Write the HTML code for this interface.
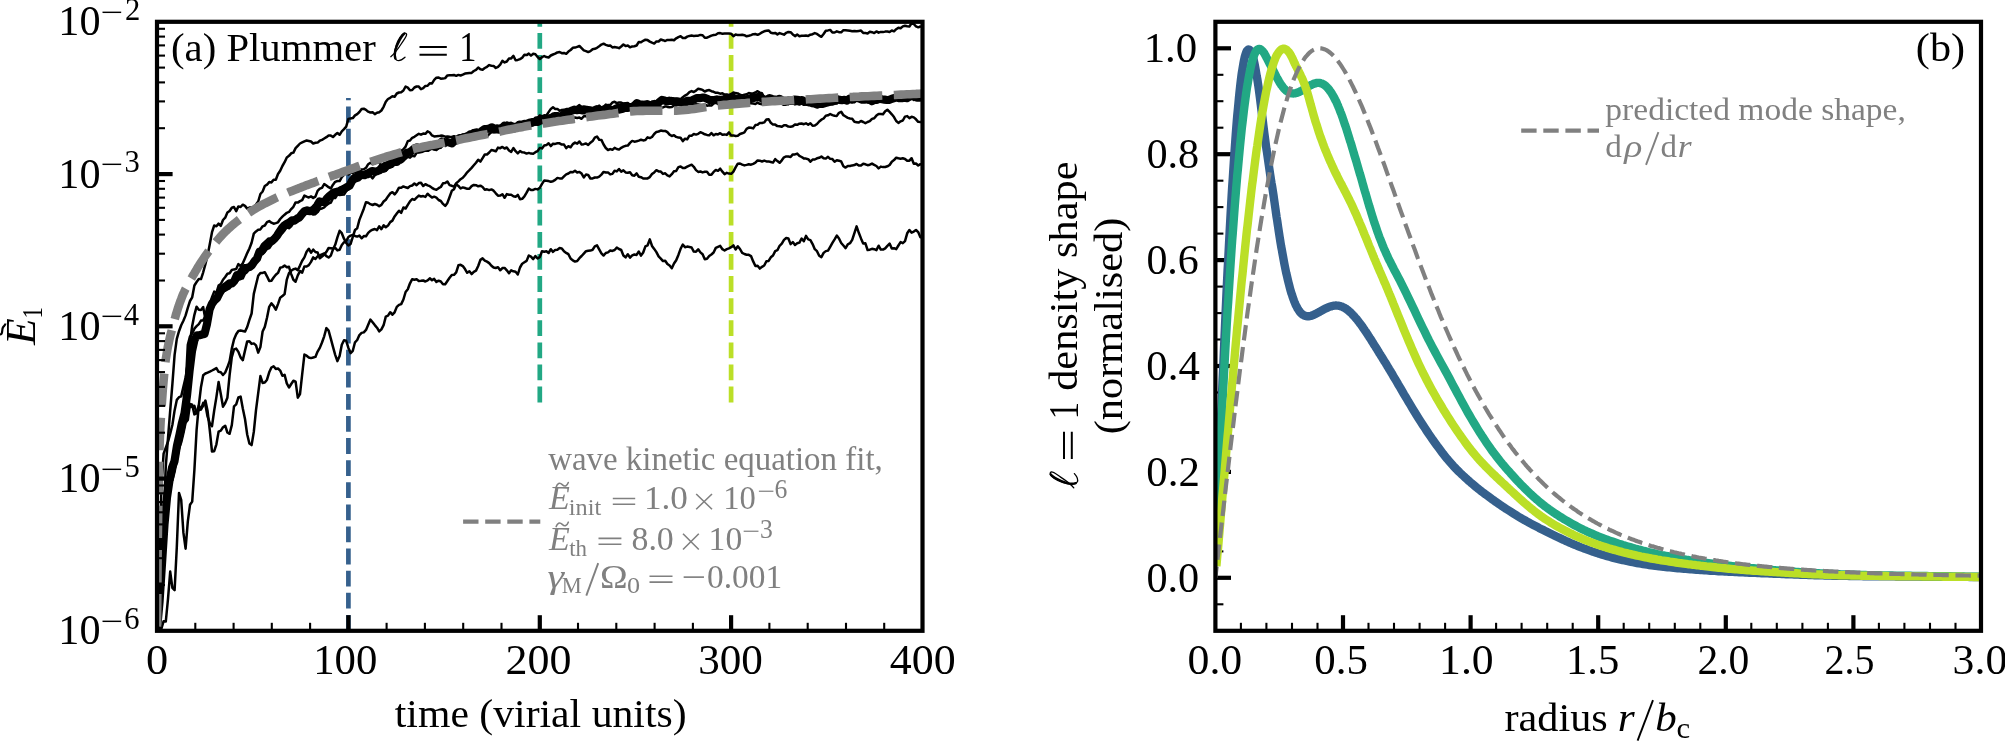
<!DOCTYPE html>
<html><head><meta charset="utf-8"><title>figure</title>
<style>html,body{margin:0;padding:0;background:#fff;}svg{display:block;will-change:transform;}text{font-family:"Liberation Serif",serif;}</style></head>
<body>
<svg width="2005" height="741" viewBox="0 0 2005 741">
<rect x="0" y="0" width="2005" height="741" fill="#fff"/>
<defs>
<clipPath id="cl"><rect x="157" y="21.8" width="765.5" height="609"/></clipPath>
<clipPath id="cr"><rect x="1215.4" y="21.8" width="765.6" height="609"/></clipPath>
</defs>
<g clip-path="url(#cl)" fill="none" stroke-linejoin="round">
<path d="M348.4 700 L348.4 97.9" stroke="#35608d" stroke-width="4.7" stroke-dasharray="15.8 6.3" stroke-dashoffset="19.1"/>
<path d="M539.8 402.4 L539.8 0" stroke="#22a884" stroke-width="4.7" stroke-dasharray="15.8 6.3"/>
<path d="M731.1 402.4 L731.1 0" stroke="#bbdf27" stroke-width="4.7" stroke-dasharray="15.8 6.3"/>
<path d="M157 628.7 L159.2 598.1 L161.4 550.6 L163.6 519.9 L165.8 496.7 L168 492.7 L170.2 483.2 L172.4 480.1 L174.6 471.7 L176.8 459.7 L179 448.8 L181.2 442.4 L183.4 433.3 L185.6 422.7 L187.8 420 L190 404 L192.2 404.7 L194.4 414.4 L196.6 413.4 L198.8 405.5 L201 408.6 L203.2 405.9 L205.4 400.6 L207.6 411.1 L209.8 430.4 L212 451.5 L214.2 451.2 L216.4 444.3 L218.6 431.6 L220.8 430.6 L223 427.2 L225.2 425.7 L227.4 432.5 L229.6 433.8 L231.8 425.1 L234 406.3 L236.2 404.3 L238.4 397.4 L240.6 396.6 L242.8 408.5 L245 419 L247.2 434.5 L249.4 443.5 L251.6 445.1 L253.8 431.9 L256 410.1 L258.2 393.2 L260.4 376.1 L262.6 382.9 L264.8 382.6 L267 379.7 L269.2 372.3 L271.4 367.5 L273.6 366.3 L275.8 368.9 L278 368.5 L280.2 370.6 L282.4 375.8 L284.6 374.8 L286.8 383.4 L289 387.5 L291.2 384 L293.4 380.7 L295.6 381.7 L297.8 397.7 L300 394 L302.2 374.2 L304.4 354.6 L306.6 355.7 L308.8 357.5 L311 358.1 L313.2 357.5 L315.4 356.9 L317.6 351.6 L319.8 347.9 L322 342.5 L324.2 336.3 L326.4 328.1 L328.6 330.6 L330.8 338.7 L333 346.9 L335.2 354.8 L337.4 361.1 L339.6 356 L341.8 344.8 L344 340.3 L346.2 340.8 L348.4 347.9 L350.6 353.1 L352.8 350.8 L355 342.3 L357.2 340 L359.4 335.1 L361.6 332.9 L363.8 332.4 L366 329.9 L368.2 324.8 L370.4 319.6 L372.6 322.2 L374.8 325.1 L377 327.7 L379.2 331.4 L381.4 329.3 L383.6 325.2 L385.8 316.6 L388 315.7 L390.2 312.2 L392.4 314.7 L394.6 312.3 L396.8 306.9 L399 304.9 L401.2 304.1 L403.4 299.5 L405.6 292 L407.8 289.3 L410 283.3 L412.2 279.2 L414.4 279.8 L416.6 279.2 L418.8 281 L421 280.8 L423.2 280.5 L425.4 281.5 L427.6 280.4 L429.8 278.3 L432 280.2 L434.2 278.9 L436.4 281.9 L438.6 280.7 L440.8 281.5 L443 284.2 L445.2 284.2 L447.4 281 L449.6 277.7 L451.8 274.9 L454 274.8 L456.2 272.4 L458.4 265.3 L460.6 264.8 L462.8 266.1 L465 269.1 L467.2 272.8 L469.4 271.3 L471.6 274.1 L473.8 271.8 L476 270.6 L478.2 266 L480.4 259.9 L482.6 258.4 L484.8 260.6 L487 261.6 L489.2 263.1 L491.4 265.7 L493.6 267.5 L495.8 268 L498 267.2 L500.2 270.3 L502.4 268.1 L504.6 267.9 L506.8 270.3 L509 273.2 L511.2 270.3 L513.4 271.3 L515.6 271.8 L517.8 274.5 L520 267.5 L522.2 263.7 L524.4 262.3 L526.6 260.9 L528.8 255.5 L531 256.6 L533.2 259.1 L535.4 256.1 L537.6 258.5 L539.8 257.1 L542 251.2 L544.2 251.7 L546.4 251.3 L548.6 253 L550.8 249.2 L553 251.9 L555.2 249.9 L557.4 249.7 L559.6 248.1 L561.8 248.4 L564 251.3 L566.2 252.9 L568.4 254.2 L570.6 258.5 L572.8 260.4 L575 261.6 L577.2 261 L579.4 258.2 L581.6 256 L583.8 253.6 L586 251.2 L588.2 250.8 L590.4 250.6 L592.6 249.8 L594.8 246.4 L597 245.4 L599.2 249.4 L601.4 253.3 L603.6 255.5 L605.8 253 L608 252.4 L610.2 250.5 L612.4 250.9 L614.6 250 L616.8 247.6 L619 249 L621.2 250 L623.4 255.5 L625.6 257.4 L627.8 254.2 L630 257.6 L632.2 255.3 L634.4 254.5 L636.6 254.9 L638.8 251.5 L641 255.6 L643.2 252.5 L645.4 246.3 L647.6 245.3 L649.8 239.4 L652 245.9 L654.2 248.9 L656.4 252.1 L658.6 256.4 L660.8 258.6 L663 261.1 L665.2 260.7 L667.4 264 L669.6 265.5 L671.8 268.2 L674 263.5 L676.2 260.2 L678.4 254.9 L680.6 248.8 L682.8 244.5 L685 247.2 L687.2 246.6 L689.4 247 L691.6 247.5 L693.8 251.6 L696 251.7 L698.2 249.3 L700.4 252.4 L702.6 254.3 L704.8 259.2 L707 258.8 L709.2 256 L711.4 254.5 L713.6 252.5 L715.8 247.9 L718 246.9 L720.2 245.9 L722.4 249.2 L724.6 250.5 L726.8 249.2 L729 248.4 L731.2 247.2 L733.4 245.4 L735.6 249.5 L737.8 246.3 L740 249 L742.2 252.9 L744.4 254 L746.6 254.7 L748.8 254.8 L751 256.1 L753.2 261.4 L755.4 266 L757.6 265.8 L759.8 268.6 L762 266.8 L764.2 265.5 L766.4 261.2 L768.6 260.9 L770.8 257.3 L773 255.5 L775.2 251.1 L777.4 250.2 L779.6 245.8 L781.8 243.7 L784 239.9 L786.2 238 L788.4 238.5 L790.6 244.1 L792.8 242.1 L795 244.9 L797.2 243.3 L799.4 242.6 L801.6 238.5 L803.8 241.2 L806 235.9 L808.2 239.4 L810.4 240.1 L812.6 244.1 L814.8 249.2 L817 251.2 L819.2 255.7 L821.4 257.1 L823.6 252.9 L825.8 251.1 L828 250.6 L830.2 246.8 L832.4 242.8 L834.6 239.3 L836.8 235.6 L839 238.5 L841.2 243 L843.4 245.5 L845.6 248.1 L847.8 244.3 L850 243.2 L852.2 239.9 L854.4 233.1 L856.6 226.4 L858.8 232.8 L861 238.4 L863.2 243.6 L865.4 243.3 L867.6 250 L869.8 249.7 L872 248.8 L874.2 249.2 L876.4 250.1 L878.6 245.7 L880.8 249.6 L883 249.6 L885.2 248.3 L887.4 245.8 L889.6 243.6 L891.8 248.4 L894 248.2 L896.2 249.2 L898.4 245.5 L900.6 242.1 L902.8 243.2 L905 241.2 L907.2 233.3 L909.4 230 L911.6 232.6 L913.8 231.6 L916 230 L918.2 232.1 L920.4 237.2 L921 237" stroke="#000" stroke-width="2.5"/>
<path d="M157 632.5 L159.2 596.2 L161.4 553.5 L163.6 517.3 L165.8 499.8 L168 485.7 L170.2 480.4 L172.4 467.3 L174.6 468.3 L176.8 448.2 L179 443.5 L181.2 439.6 L183.4 430.7 L185.6 420.2 L187.8 411.9 L190 405.4 L192.2 407 L194.4 405.9 L196.6 412.6 L198.8 410.1 L201 409.5 L203.2 402.9 L205.4 405.1 L207.6 416.7 L209.8 423.2 L212 426.2 L214.2 410.5 L216.4 397.1 L218.6 381.9 L220.8 393.9 L223 406.7 L225.2 403 L227.4 397.7 L229.6 375.1 L231.8 357.2 L234 349.4 L236.2 348.6 L238.4 351.9 L240.6 357.4 L242.8 360.1 L245 350.6 L247.2 341.4 L249.4 341.2 L251.6 343.9 L253.8 343.4 L256 345.4 L258.2 352.6 L260.4 347.1 L262.6 331.5 L264.8 326.9 L267 317.8 L269.2 306.8 L271.4 303.3 L273.6 305.8 L275.8 309.7 L278 304.1 L280.2 297.7 L282.4 296.1 L284.6 294 L286.8 279.6 L289 273.1 L291.2 270.7 L293.4 269.2 L295.6 268.6 L297.8 270.1 L300 265.6 L302.2 260.8 L304.4 257.4 L306.6 251.7 L308.8 248.7 L311 252.7 L313.2 249.6 L315.4 252 L317.6 252.5 L319.8 258.3 L322 256.5 L324.2 254.8 L326.4 251.8 L328.6 248 L330.8 248.2 L333 248.5 L335.2 247.9 L337.4 250.4 L339.6 249.7 L341.8 245 L344 242.3 L346.2 241.1 L348.4 237 L350.6 235.6 L352.8 234.9 L355 236 L357.2 236.6 L359.4 235.6 L361.6 238.3 L363.8 236.1 L366 236.2 L368.2 232.9 L370.4 230.8 L372.6 229.7 L374.8 229 L377 230.2 L379.2 226.4 L381.4 229.1 L383.6 225.3 L385.8 227.2 L388 225.6 L390.2 222.1 L392.4 220.6 L394.6 216.4 L396.8 213.5 L399 210.7 L401.2 212.9 L403.4 207.5 L405.6 208.5 L407.8 204.8 L410 201.3 L412.2 199 L414.4 199.8 L416.6 197.6 L418.8 195.6 L421 196.5 L423.2 196.1 L425.4 196.9 L427.6 193.7 L429.8 195.8 L432 197.5 L434.2 196.7 L436.4 197.6 L438.6 200 L440.8 201 L443 203.9 L445.2 205.9 L447.4 202.9 L449.6 197 L451.8 190.8 L454 189.2 L456.2 184.3 L458.4 185.9 L460.6 188.5 L462.8 187.4 L465 188 L467.2 188.8 L469.4 188.8 L471.6 186.1 L473.8 184.9 L476 185.2 L478.2 186.3 L480.4 185.7 L482.6 187 L484.8 189.8 L487 189.3 L489.2 190.1 L491.4 189.4 L493.6 190.7 L495.8 193.3 L498 195.7 L500.2 195.6 L502.4 194.2 L504.6 197.8 L506.8 194.1 L509 194.7 L511.2 194.8 L513.4 196.2 L515.6 196.7 L517.8 194.9 L520 199.2 L522.2 198.8 L524.4 196.4 L526.6 192.7 L528.8 188.6 L531 190 L533.2 189.9 L535.4 188.9 L537.6 189.4 L539.8 187.8 L542 183.9 L544.2 180.6 L546.4 180.7 L548.6 181.1 L550.8 181.7 L553 181.2 L555.2 179.9 L557.4 177.9 L559.6 178.4 L561.8 178.6 L564 176.4 L566.2 174.3 L568.4 173.5 L570.6 171.9 L572.8 172.3 L575 170.7 L577.2 172.5 L579.4 171.9 L581.6 173.6 L583.8 177.4 L586 174.6 L588.2 175 L590.4 178.5 L592.6 178.4 L594.8 177.5 L597 177.6 L599.2 176.6 L601.4 174.6 L603.6 171.9 L605.8 172.5 L608 172.4 L610.2 174.4 L612.4 173.9 L614.6 170.7 L616.8 171.4 L619 169 L621.2 171.6 L623.4 170.3 L625.6 172.4 L627.8 172.8 L630 172.3 L632.2 175.3 L634.4 175.7 L636.6 173.4 L638.8 176.7 L641 177.2 L643.2 178.5 L645.4 178.4 L647.6 178.4 L649.8 177.1 L652 174.1 L654.2 172.4 L656.4 170.2 L658.6 171.4 L660.8 171.6 L663 173.9 L665.2 173.3 L667.4 175.4 L669.6 176.4 L671.8 174.2 L674 171.3 L676.2 170.9 L678.4 167.1 L680.6 166.5 L682.8 168.1 L685 167.9 L687.2 166.6 L689.4 165.6 L691.6 164.7 L693.8 166.8 L696 170.1 L698.2 171.9 L700.4 171.5 L702.6 172.4 L704.8 171.8 L707 171.8 L709.2 174.7 L711.4 174.8 L713.6 171.9 L715.8 170 L718 170.8 L720.2 168.6 L722.4 171.7 L724.6 174.2 L726.8 172.8 L729 173.6 L731.2 173.8 L733.4 171.6 L735.6 167.4 L737.8 163.7 L740 163.5 L742.2 164.6 L744.4 165.4 L746.6 164.9 L748.8 164.3 L751 164.7 L753.2 163.8 L755.4 162.6 L757.6 160.4 L759.8 160.7 L762 161.5 L764.2 160.6 L766.4 161.4 L768.6 161.4 L770.8 162 L773 162.6 L775.2 159.1 L777.4 161.1 L779.6 162.8 L781.8 160.3 L784 157.3 L786.2 156.4 L788.4 156.5 L790.6 157 L792.8 154.4 L795 154.4 L797.2 153.6 L799.4 155.9 L801.6 157 L803.8 158.4 L806 158.6 L808.2 159.2 L810.4 161.7 L812.6 159.6 L814.8 159.5 L817 158.3 L819.2 157.8 L821.4 156.5 L823.6 158.3 L825.8 158.6 L828 156.8 L830.2 158.8 L832.4 159.1 L834.6 161.7 L836.8 160.2 L839 160.7 L841.2 161.5 L843.4 166.2 L845.6 167.6 L847.8 166 L850 166 L852.2 165.4 L854.4 165.1 L856.6 163.9 L858.8 165.5 L861 165.5 L863.2 163.8 L865.4 164.3 L867.6 165.2 L869.8 164.7 L872 163.6 L874.2 164.9 L876.4 166 L878.6 168.4 L880.8 166.6 L883 167.1 L885.2 167 L887.4 166.3 L889.6 165 L891.8 161.7 L894 160.1 L896.2 157.7 L898.4 158.3 L900.6 158.7 L902.8 158.3 L905 159 L907.2 160.8 L909.4 160.7 L911.6 158.2 L913.8 163.7 L916 163.5 L918.2 165.5 L920.4 164.2 L921 165.4" stroke="#000" stroke-width="2.5"/>
<path d="M157 636 L159.2 636.4 L161.4 628.7 L163.6 621.2 L165.8 621.5 L168 598.9 L170.2 571.6 L172.4 587.9 L174.6 590.2 L176.8 547.1 L179 493 L181.2 499.8 L183.4 532.7 L185.6 548.7 L187.8 521.7 L190 504.8 L192.2 501.6 L194.4 469.9 L196.6 429.9 L198.8 405.3 L201 386.9 L203.2 375.3 L205.4 373.5 L207.6 372.6 L209.8 371.6 L212 370.5 L214.2 369.3 L216.4 368.1 L218.6 371.8 L220.8 372.2 L223 375 L225.2 372.5 L227.4 367.3 L229.6 361.2 L231.8 348.6 L234 339.5 L236.2 334.3 L238.4 331 L240.6 330.6 L242.8 331 L245 331.6 L247.2 327 L249.4 319.8 L251.6 313.5 L253.8 293.9 L256 284.8 L258.2 275.8 L260.4 272.9 L262.6 272.9 L264.8 272.2 L267 276.3 L269.2 280.9 L271.4 280.7 L273.6 277.5 L275.8 274.8 L278 272.9 L280.2 267.7 L282.4 267.1 L284.6 265.6 L286.8 267.2 L289 266.8 L291.2 274.1 L293.4 279.8 L295.6 281.7 L297.8 275.4 L300 271.1 L302.2 272.6 L304.4 266.4 L306.6 266.5 L308.8 265.1 L311 261.9 L313.2 257.4 L315.4 259 L317.6 256.3 L319.8 255.4 L322 254.3 L324.2 253.3 L326.4 256.2 L328.6 257.5 L330.8 255.6 L333 249.4 L335.2 244.8 L337.4 237.4 L339.6 230.8 L341.8 233.2 L344 238.7 L346.2 242.9 L348.4 245.5 L350.6 244 L352.8 236.9 L355 230 L357.2 228.3 L359.4 219.9 L361.6 214.4 L363.8 208.7 L366 202.2 L368.2 202.8 L370.4 204.2 L372.6 205 L374.8 204 L377 204.7 L379.2 206.3 L381.4 204.9 L383.6 201.5 L385.8 199.7 L388 196.4 L390.2 193.4 L392.4 192.2 L394.6 194.4 L396.8 191.7 L399 187.7 L401.2 187.8 L403.4 186.4 L405.6 187.3 L407.8 188 L410 186.1 L412.2 185.5 L414.4 183.5 L416.6 185.2 L418.8 183.1 L421 182.8 L423.2 186 L425.4 184.2 L427.6 185.4 L429.8 186.2 L432 187.8 L434.2 189.1 L436.4 189.7 L438.6 188.2 L440.8 187 L443 183.3 L445.2 183.1 L447.4 181.5 L449.6 185.1 L451.8 185.8 L454 186.7 L456.2 183.2 L458.4 181.4 L460.6 179.2 L462.8 177.8 L465 175.2 L467.2 172.3 L469.4 170.2 L471.6 167.9 L473.8 165.3 L476 162.7 L478.2 159.7 L480.4 161.7 L482.6 158.1 L484.8 154.5 L487 154.5 L489.2 152.5 L491.4 150 L493.6 150.5 L495.8 151.3 L498 147.6 L500.2 148.2 L502.4 146.9 L504.6 148.5 L506.8 147.5 L509 150.5 L511.2 151.9 L513.4 148 L515.6 151.2 L517.8 153.3 L520 151 L522.2 152.3 L524.4 152.6 L526.6 153.6 L528.8 152.9 L531 153.6 L533.2 153.7 L535.4 152.2 L537.6 151.1 L539.8 147.9 L542 148.4 L544.2 145.5 L546.4 145.1 L548.6 143.2 L550.8 146.1 L553 143.7 L555.2 143.9 L557.4 143.3 L559.6 143.3 L561.8 144.6 L564 144.6 L566.2 148.1 L568.4 146.2 L570.6 147.3 L572.8 144.1 L575 142.6 L577.2 143.7 L579.4 141.5 L581.6 144.5 L583.8 144.2 L586 143.4 L588.2 145 L590.4 142.7 L592.6 141.1 L594.8 137.6 L597 136.5 L599.2 139.7 L601.4 139.9 L603.6 144.5 L605.8 148 L608 150 L610.2 149.1 L612.4 149.8 L614.6 147.8 L616.8 149 L619 149.6 L621.2 147.8 L623.4 146.7 L625.6 145.8 L627.8 145.6 L630 142.9 L632.2 140.9 L634.4 141.7 L636.6 141.3 L638.8 140.6 L641 139.7 L643.2 140.4 L645.4 140.1 L647.6 137.3 L649.8 138.1 L652 137 L654.2 134 L656.4 131.9 L658.6 131.5 L660.8 130.6 L663 131 L665.2 130.9 L667.4 132.2 L669.6 134.7 L671.8 136 L674 135.2 L676.2 136.9 L678.4 137.6 L680.6 137.8 L682.8 141.1 L685 138.7 L687.2 139.3 L689.4 135.7 L691.6 135.7 L693.8 134 L696 134.6 L698.2 133.8 L700.4 132.2 L702.6 133.1 L704.8 134.3 L707 134.9 L709.2 135.3 L711.4 133 L713.6 135.3 L715.8 134 L718 134.4 L720.2 133.2 L722.4 134.8 L724.6 134.4 L726.8 134.9 L729 132.4 L731.2 135.4 L733.4 135.4 L735.6 136 L737.8 135.7 L740 134 L742.2 133.3 L744.4 132.3 L746.6 128.8 L748.8 127.6 L751 127.8 L753.2 128.4 L755.4 125.1 L757.6 124.7 L759.8 122.9 L762 123 L764.2 122.4 L766.4 119.5 L768.6 119.2 L770.8 122.8 L773 124.6 L775.2 124.6 L777.4 126.1 L779.6 126.3 L781.8 126.8 L784 125.2 L786.2 125.3 L788.4 126.6 L790.6 126.8 L792.8 126.3 L795 124.4 L797.2 124.8 L799.4 123.7 L801.6 123.5 L803.8 124.2 L806 123.3 L808.2 124.7 L810.4 123.2 L812.6 125.8 L814.8 125.5 L817 124 L819.2 121.5 L821.4 119.7 L823.6 118.5 L825.8 115.7 L828 115.3 L830.2 114 L832.4 115.1 L834.6 115.8 L836.8 115.9 L839 112.8 L841.2 111.8 L843.4 115.2 L845.6 116.5 L847.8 117.9 L850 118.5 L852.2 118.8 L854.4 121.8 L856.6 122.2 L858.8 122.6 L861 121 L863.2 122 L865.4 123.2 L867.6 122 L869.8 121.2 L872 118.9 L874.2 118.2 L876.4 115.6 L878.6 114 L880.8 114.1 L883 114.3 L885.2 111.2 L887.4 109.7 L889.6 111.9 L891.8 114.3 L894 117.1 L896.2 121 L898.4 122.9 L900.6 121.3 L902.8 120.5 L905 116.6 L907.2 116.1 L909.4 118.1 L911.6 116.8 L913.8 117.4 L916 119.3 L918.2 121.8 L920.4 122.1 L921 122" stroke="#000" stroke-width="2.5"/>
<path d="M157 629.1 L159.2 594.9 L161.4 552.5 L163.6 517.4 L165.8 498 L168 483.2 L170.2 469.1 L172.4 464.6 L174.6 454.3 L176.8 442.3 L179 430.9 L181.2 419.7 L183.4 408.4 L185.6 387.6 L187.8 344.7 L190 336.4 L192.2 333.6 L194.4 328.7 L196.6 326.2 L198.8 324.2 L201 320.6 L203.2 320.4 L205.4 316.1 L207.6 310.3 L209.8 308.4 L212 303.2 L214.2 298.9 L216.4 296.1 L218.6 297.4 L220.8 293.1 L223 291.7 L225.2 290.6 L227.4 289.3 L229.6 288.3 L231.8 285.6 L234 283.7 L236.2 282.5 L238.4 279.8 L240.6 279 L242.8 278.4 L245 273.7 L247.2 272 L249.4 267.9 L251.6 265 L253.8 262.9 L256 261.2 L258.2 258.4 L260.4 253 L262.6 254.2 L264.8 251.8 L267 249 L269.2 248.2 L271.4 245.1 L273.6 241.4 L275.8 240.3 L278 238.3 L280.2 234.4 L282.4 233 L284.6 230.4 L286.8 227 L289 228.2 L291.2 226.4 L293.4 223.1 L295.6 222.6 L297.8 220.6 L300 219.4 L302.2 215.1 L304.4 214.5 L306.6 213.6 L308.8 213.8 L311 213.7 L313.2 214.5 L315.4 214.2 L317.6 212.2 L319.8 208.9 L322 208.5 L324.2 207.3 L326.4 205.2 L328.6 203.5 L330.8 202.7 L333 198.1 L335.2 198.1 L337.4 194.5 L339.6 194.9 L341.8 194.8 L344 194.6 L346.2 191 L348.4 189.1 L350.6 186.6 L352.8 182 L355 181.7 L357.2 180.9 L359.4 180 L361.6 178 L363.8 177.4 L366 176.7 L368.2 177.1 L370.4 175.9 L372.6 178.3 L374.8 175.3 L377 173.5 L379.2 172.4 L381.4 170.7 L383.6 171.7 L385.8 170.9 L388 167.7 L390.2 166.8 L392.4 166.7 L394.6 163.5 L396.8 162.7 L399 161.3 L401.2 162.5 L403.4 160.9 L405.6 158.7 L407.8 156.9 L410 157.7 L412.2 155.5 L414.4 156.3 L416.6 152.8 L418.8 152.2 L421 151.6 L423.2 150.6 L425.4 150.3 L427.6 150.8 L429.8 149.6 L432 147.9 L434.2 149.4 L436.4 150 L438.6 148.1 L440.8 147.7 L443 144.6 L445.2 145.9 L447.4 144.2 L449.6 143.7 L451.8 145.7 L454 143.3 L456.2 142.9 L458.4 141.3 L460.6 139.4 L462.8 138.7 L465 139.3 L467.2 137.9 L469.4 137.4 L471.6 138.1 L473.8 137.5 L476 135.9 L478.2 137.4 L480.4 136.8 L482.6 137.4 L484.8 135.3 L487 136.4 L489.2 134.1 L491.4 132.2 L493.6 132.2 L495.8 132 L498 132.3 L500.2 131.5 L502.4 131.9 L504.6 132.5 L506.8 130.9 L509 129.2 L511.2 128.8 L513.4 129.5 L515.6 129.6 L517.8 128.4 L520 127 L522.2 126.8 L524.4 127.4 L526.6 126 L528.8 126.7 L531 126 L533.2 125.4 L535.4 124 L537.6 124.8 L539.8 124 L542 122 L544.2 122.7 L546.4 121.8 L548.6 122.4 L550.8 121.8 L553 120.6 L555.2 120.4 L557.4 119.5 L559.6 118.6 L561.8 118.6 L564 119.1 L566.2 118.5 L568.4 118 L570.6 117.3 L572.8 117.7 L575 117.6 L577.2 118 L579.4 117.6 L581.6 118.8 L583.8 116.2 L586 115.9 L588.2 116.2 L590.4 116.5 L592.6 114.6 L594.8 113.6 L597 114 L599.2 115 L601.4 115.5 L603.6 113.5 L605.8 113.6 L608 114.5 L610.2 113.9 L612.4 112.6 L614.6 112 L616.8 111 L619 112.5 L621.2 112 L623.4 111.5 L625.6 110.7 L627.8 110.8 L630 110.1 L632.2 109.5 L634.4 109.9 L636.6 109.8 L638.8 110.2 L641 110.1 L643.2 110.7 L645.4 109.8 L647.6 109.5 L649.8 109.1 L652 108 L654.2 108.8 L656.4 107.7 L658.6 106.1 L660.8 107.4 L663 107.5 L665.2 106.4 L667.4 106.9 L669.6 107.2 L671.8 107.1 L674 105.5 L676.2 105.6 L678.4 104.7 L680.6 104.4 L682.8 104.3 L685 103.9 L687.2 104.8 L689.4 104.1 L691.6 104.9 L693.8 104.9 L696 104.2 L698.2 104.4 L700.4 104.9 L702.6 105.5 L704.8 104.6 L707 105.7 L709.2 105.3 L711.4 105.6 L713.6 103.5 L715.8 102.6 L718 103.9 L720.2 103.4 L722.4 103.6 L724.6 104.3 L726.8 102.4 L729 102.9 L731.2 104.3 L733.4 104.1 L735.6 103.4 L737.8 103.3 L740 102.8 L742.2 103 L744.4 103.7 L746.6 102.9 L748.8 103.2 L751 103.2 L753.2 103.6 L755.4 104 L757.6 102.6 L759.8 103.8 L762 104.2 L764.2 102.9 L766.4 102.9 L768.6 102 L770.8 102.5 L773 103.4 L775.2 102.7 L777.4 102.7 L779.6 102.6 L781.8 102.7 L784 102.7 L786.2 102.5 L788.4 103.6 L790.6 103.7 L792.8 103.2 L795 104.4 L797.2 103.8 L799.4 104.6 L801.6 103.4 L803.8 104.8 L806 104.1 L808.2 103.3 L810.4 104 L812.6 102.9 L814.8 102.6 L817 103.4 L819.2 103.3 L821.4 103.7 L823.6 103.7 L825.8 103.6 L828 103.4 L830.2 103.6 L832.4 103.1 L834.6 103.5 L836.8 103.6 L839 101.1 L841.2 99.9 L843.4 101.7 L845.6 101 L847.8 101.1 L850 100.7 L852.2 100.8 L854.4 102.2 L856.6 100.6 L858.8 100.3 L861 100.1 L863.2 99.1 L865.4 98.7 L867.6 98.9 L869.8 99.2 L872 99.7 L874.2 98 L876.4 97.4 L878.6 99.6 L880.8 99.4 L883 100 L885.2 99.3 L887.4 98.7 L889.6 100.6 L891.8 98.9 L894 98.2 L896.2 99.1 L898.4 99 L900.6 97.5 L902.8 98.1 L905 98.9 L907.2 97.5 L909.4 97.4 L911.6 98.5 L913.8 99.9 L916 97.2 L918.2 97.1 L920.4 97.5 L921 98" stroke="#000" stroke-width="2.5"/>
<path d="M157 631.8 L159.2 575.6 L161.4 486.9 L163.6 453.6 L165.8 447.8 L168 441.7 L170.2 433.6 L172.4 424.7 L174.6 410.4 L176.8 399.9 L179 397.2 L181.2 396.4 L183.4 386.9 L185.6 377.5 L187.8 363.7 L190 341.8 L192.2 326 L194.4 314.8 L196.6 306.7 L198.8 309.8 L201 310 L203.2 307.1 L205.4 319.4 L207.6 307.8 L209.8 304.9 L212 297.2 L214.2 291.6 L216.4 292.9 L218.6 285.6 L220.8 284 L223 279.7 L225.2 277 L227.4 273.7 L229.6 273.3 L231.8 270 L234 269.4 L236.2 269.1 L238.4 264.1 L240.6 266.1 L242.8 263.2 L245 258.3 L247.2 253.1 L249.4 248.5 L251.6 242.8 L253.8 233.6 L256 231.4 L258.2 229.8 L260.4 229.4 L262.6 226.3 L264.8 225.5 L267 222.1 L269.2 221.1 L271.4 222.7 L273.6 223.7 L275.8 223.1 L278 222.3 L280.2 219 L282.4 216.7 L284.6 214.7 L286.8 212.8 L289 211.9 L291.2 209.1 L293.4 206.8 L295.6 202.4 L297.8 202.6 L300 201.1 L302.2 200.1 L304.4 195.6 L306.6 196.7 L308.8 197.5 L311 196.4 L313.2 197.9 L315.4 196.6 L317.6 190.9 L319.8 188.7 L322 187.9 L324.2 184 L326.4 185.5 L328.6 187.2 L330.8 188.5 L333 184.7 L335.2 181.8 L337.4 181 L339.6 181.1 L341.8 177.1 L344 174.8 L346.2 173 L348.4 174.5 L350.6 172.7 L352.8 172.7 L355 172.4 L357.2 172.4 L359.4 170.9 L361.6 169.4 L363.8 169.2 L366 167.8 L368.2 164.2 L370.4 162.8 L372.6 164 L374.8 163.5 L377 162.4 L379.2 162.3 L381.4 165.9 L383.6 163.5 L385.8 162.6 L388 161.9 L390.2 159.6 L392.4 159 L394.6 157.3 L396.8 155 L399 150.7 L401.2 150.7 L403.4 149.3 L405.6 146.6 L407.8 141.1 L410 140.5 L412.2 137.8 L414.4 136.8 L416.6 135.3 L418.8 133.8 L421 134.7 L423.2 133.6 L425.4 133.8 L427.6 131.4 L429.8 132.5 L432 135.4 L434.2 136.4 L436.4 136.2 L438.6 136.1 L440.8 135.6 L443 135.8 L445.2 136.7 L447.4 136.4 L449.6 136.8 L451.8 137 L454 136.2 L456.2 137 L458.4 136.7 L460.6 135.4 L462.8 134.5 L465 134.2 L467.2 133 L469.4 131.6 L471.6 132.3 L473.8 131.8 L476 132.6 L478.2 131.5 L480.4 131.5 L482.6 131.5 L484.8 130.5 L487 130.5 L489.2 129.4 L491.4 128.8 L493.6 129.2 L495.8 128.6 L498 127.4 L500.2 125.5 L502.4 125.7 L504.6 126.9 L506.8 122.5 L509 123.2 L511.2 122.8 L513.4 123.8 L515.6 124.4 L517.8 122.3 L520 124.2 L522.2 122.7 L524.4 122.2 L526.6 122.9 L528.8 122.5 L531 121.7 L533.2 119.8 L535.4 117.7 L537.6 117.3 L539.8 115.3 L542 116.4 L544.2 115.3 L546.4 115.4 L548.6 112.1 L550.8 108.9 L553 107.3 L555.2 108.9 L557.4 108.9 L559.6 110.8 L561.8 110 L564 109.8 L566.2 111.6 L568.4 110.9 L570.6 111 L572.8 110.7 L575 109.6 L577.2 106.8 L579.4 105.1 L581.6 107 L583.8 106.4 L586 107 L588.2 107.4 L590.4 107.6 L592.6 107.9 L594.8 107.9 L597 108.2 L599.2 105.6 L601.4 107.9 L603.6 106.8 L605.8 104.6 L608 105.1 L610.2 105.1 L612.4 102.5 L614.6 101.8 L616.8 103.1 L619 102.5 L621.2 102.6 L623.4 103.6 L625.6 103.2 L627.8 103 L630 105 L632.2 104.5 L634.4 104.5 L636.6 105.4 L638.8 105.5 L641 103.9 L643.2 105.7 L645.4 104.3 L647.6 105.1 L649.8 103.9 L652 101.5 L654.2 102.7 L656.4 101.6 L658.6 100.2 L660.8 100.2 L663 97.9 L665.2 99.2 L667.4 98.7 L669.6 98.8 L671.8 98.1 L674 99.2 L676.2 99 L678.4 99 L680.6 99.1 L682.8 97.2 L685 95.6 L687.2 94.4 L689.4 92.1 L691.6 91.1 L693.8 92 L696 90.7 L698.2 88.7 L700.4 89.2 L702.6 89.9 L704.8 91.5 L707 90.5 L709.2 90.1 L711.4 91.2 L713.6 91.8 L715.8 92.8 L718 92.8 L720.2 93.7 L722.4 93.3 L724.6 94.6 L726.8 94.6 L729 94.9 L731.2 94 L733.4 92.5 L735.6 93.1 L737.8 93.4 L740 94.8 L742.2 95.4 L744.4 94.7 L746.6 94.3 L748.8 93.1 L751 93.4 L753.2 93.4 L755.4 92.5 L757.6 91.2 L759.8 92.6 L762 93.3 L764.2 97.3 L766.4 99.7 L768.6 100.9 L770.8 99.4 L773 100.3 L775.2 98.9 L777.4 99.5 L779.6 98.8 L781.8 99.5 L784 100.3 L786.2 102.4 L788.4 104 L790.6 103.5 L792.8 103.6 L795 103.1 L797.2 102.9 L799.4 102.3 L801.6 103.3 L803.8 104.5 L806 103.6 L808.2 104.2 L810.4 102.8 L812.6 102.2 L814.8 102.2 L817 103.5 L819.2 102.7 L821.4 103.5 L823.6 102.6 L825.8 101.3 L828 99.6 L830.2 100.1 L832.4 99.7 L834.6 101.3 L836.8 101.7 L839 99.6 L841.2 100.9 L843.4 101.2 L845.6 97.7 L847.8 97.6 L850 98.8 L852.2 97.4 L854.4 97.5 L856.6 98.6 L858.8 99.4 L861 100.1 L863.2 100.7 L865.4 99.7 L867.6 102.5 L869.8 102.3 L872 103.9 L874.2 102.5 L876.4 102.4 L878.6 101.7 L880.8 100.6 L883 100.3 L885.2 99.9 L887.4 100.1 L889.6 99.5 L891.8 98.7 L894 98.5 L896.2 99.5 L898.4 98.7 L900.6 98.8 L902.8 98.4 L905 96 L907.2 95.8 L909.4 95.7 L911.6 95.1 L913.8 95.6 L916 94.7 L918.2 96.3 L920.4 96.3 L921 97.4" stroke="#000" stroke-width="2.5"/>
<path d="M157 628.9 L159.2 595.3 L161.4 555.6 L163.6 517.2 L165.8 466.1 L168 438.1 L170.2 410.7 L172.4 383.9 L174.6 354.9 L176.8 338.8 L179 331.2 L181.2 325.2 L183.4 320.8 L185.6 315.4 L187.8 307.9 L190 301 L192.2 297.3 L194.4 285.5 L196.6 282 L198.8 279.1 L201 279.1 L203.2 272.3 L205.4 264.1 L207.6 255.5 L209.8 244.1 L212 232.2 L214.2 225.5 L216.4 226.3 L218.6 223.6 L220.8 225.9 L223 220 L225.2 217.7 L227.4 212.6 L229.6 211 L231.8 207.7 L234 207 L236.2 211.1 L238.4 206.4 L240.6 207 L242.8 204.7 L245 205.9 L247.2 208.6 L249.4 207.6 L251.6 207.6 L253.8 206.9 L256 204.5 L258.2 201.5 L260.4 194 L262.6 191.5 L264.8 186 L267 184.7 L269.2 182.1 L271.4 182.4 L273.6 179.7 L275.8 179.8 L278 174 L280.2 170.8 L282.4 166 L284.6 162.2 L286.8 157.4 L289 155.8 L291.2 153.3 L293.4 152.6 L295.6 148.1 L297.8 145.8 L300 143.5 L302.2 142.4 L304.4 141.3 L306.6 140.5 L308.8 141 L311 141.5 L313.2 143.5 L315.4 142.8 L317.6 142.6 L319.8 140.7 L322 139.8 L324.2 138.5 L326.4 137.2 L328.6 135.5 L330.8 135.6 L333 137 L335.2 134.8 L337.4 133 L339.6 134.8 L341.8 131.3 L344 129.2 L346.2 126.7 L348.4 118.9 L350.6 118.4 L352.8 118.1 L355 115.4 L357.2 114.1 L359.4 112 L361.6 109 L363.8 108.7 L366 109.9 L368.2 111.7 L370.4 112.5 L372.6 112.3 L374.8 114.1 L377 112.7 L379.2 112.2 L381.4 110.5 L383.6 106.8 L385.8 101.8 L388 99 L390.2 97.8 L392.4 96.3 L394.6 96.7 L396.8 93.5 L399 92.5 L401.2 92.2 L403.4 90.5 L405.6 86.5 L407.8 87.6 L410 90.2 L412.2 90 L414.4 87.5 L416.6 86.5 L418.8 86.6 L421 89.2 L423.2 88.2 L425.4 85.9 L427.6 85.8 L429.8 83.2 L432 83.4 L434.2 79.9 L436.4 77.7 L438.6 77.5 L440.8 78.7 L443 78.6 L445.2 78.1 L447.4 75.4 L449.6 75.2 L451.8 75.2 L454 75 L456.2 75.8 L458.4 74.9 L460.6 75.5 L462.8 74.7 L465 73.6 L467.2 73.3 L469.4 73 L471.6 72.9 L473.8 71 L476 69.9 L478.2 67.6 L480.4 69.3 L482.6 69.7 L484.8 68 L487 66.8 L489.2 65.1 L491.4 65.7 L493.6 65.9 L495.8 68 L498 66.9 L500.2 64.6 L502.4 60.8 L504.6 62.4 L506.8 61.5 L509 58.6 L511.2 58.4 L513.4 55.9 L515.6 60.2 L517.8 59.9 L520 59.1 L522.2 57.7 L524.4 54.7 L526.6 55.1 L528.8 53.6 L531 55.6 L533.2 53.8 L535.4 54.3 L537.6 57 L539.8 59 L542 57.2 L544.2 56 L546.4 57.1 L548.6 57.5 L550.8 55.5 L553 54.5 L555.2 53.7 L557.4 52.4 L559.6 52 L561.8 53.2 L564 52.9 L566.2 53.8 L568.4 51.6 L570.6 50 L572.8 47.8 L575 47.6 L577.2 46.8 L579.4 46 L581.6 48.2 L583.8 50.4 L586 51.1 L588.2 52.1 L590.4 51.1 L592.6 49.2 L594.8 48.8 L597 47.8 L599.2 46.3 L601.4 44.6 L603.6 43.7 L605.8 44.8 L608 45.7 L610.2 45.5 L612.4 47.4 L614.6 47.1 L616.8 47.4 L619 48.2 L621.2 46.5 L623.4 44.5 L625.6 46.1 L627.8 45.5 L630 47.3 L632.2 46.4 L634.4 46.2 L636.6 45.5 L638.8 41.9 L641 42.3 L643.2 40.8 L645.4 39.7 L647.6 40.1 L649.8 41.6 L652 42.7 L654.2 43.6 L656.4 41.4 L658.6 41.5 L660.8 39.5 L663 40.2 L665.2 41 L667.4 39.9 L669.6 40 L671.8 39.8 L674 40.2 L676.2 38.3 L678.4 37.1 L680.6 36.2 L682.8 38 L685 38.1 L687.2 36.6 L689.4 35.9 L691.6 35.6 L693.8 35.9 L696 35.8 L698.2 35.7 L700.4 34.9 L702.6 35.2 L704.8 37.8 L707 37.7 L709.2 36.7 L711.4 35.6 L713.6 35 L715.8 34.7 L718 33.3 L720.2 33.1 L722.4 33.7 L724.6 33.4 L726.8 33.5 L729 33.6 L731.2 33.8 L733.4 36.2 L735.6 34.5 L737.8 35.1 L740 34.9 L742.2 34.7 L744.4 35.2 L746.6 36.3 L748.8 35.8 L751 35.1 L753.2 34.2 L755.4 34 L757.6 34.8 L759.8 33.8 L762 32.4 L764.2 31.3 L766.4 30.8 L768.6 30.4 L770.8 32.7 L773 33.2 L775.2 32.9 L777.4 34.4 L779.6 33.1 L781.8 33.9 L784 34.7 L786.2 32.8 L788.4 31.9 L790.6 32.2 L792.8 34.4 L795 36.1 L797.2 34.6 L799.4 36.2 L801.6 35.8 L803.8 35.7 L806 35.6 L808.2 35.9 L810.4 34.7 L812.6 34.2 L814.8 33.1 L817 33.9 L819.2 35.6 L821.4 36.8 L823.6 34 L825.8 30.7 L828 30.4 L830.2 29.9 L832.4 32.5 L834.6 32.5 L836.8 31.3 L839 32.2 L841.2 32.3 L843.4 30.2 L845.6 30.2 L847.8 30.4 L850 30.8 L852.2 31.2 L854.4 30.9 L856.6 31.3 L858.8 30.9 L861 30.6 L863.2 32.9 L865.4 33.1 L867.6 33.4 L869.8 31.7 L872 32.2 L874.2 33.1 L876.4 31.4 L878.6 32.7 L880.8 31.9 L883 32.1 L885.2 31.6 L887.4 31.5 L889.6 32 L891.8 30.5 L894 31.3 L896.2 29.2 L898.4 27.7 L900.6 28.2 L902.8 26.4 L905 25.7 L907.2 26.2 L909.4 26.5 L911.6 23.3 L913.8 24 L916 26.4 L918.2 27.3 L920.4 26.5 L921 25.7" stroke="#000" stroke-width="2.5"/>
<path d="M157 629.6 L159.5 602.4 L162 563.7 L164.5 524.4 L167 497.3 L169.5 480.5 L172 467.8 L174.5 461.2 L177 445.6 L179.5 434.6 L182 422.7 L184.5 413.3 L187 395.7 L189.5 371.4 L192 351 L194.5 339.9 L197 335.3 L199.5 335.2 L202 334.5 L204.5 334 L207 323.9 L209.5 309.7 L212 303.7 L214.5 300.3 L217 298.1 L219.5 293.2 L222 289.2 L224.5 287.2 L227 285.5 L229.5 283.4 L232 283.4 L234.5 280.7 L237 275 L239.5 275.1 L242 270.7 L244.5 268 L247 267.7 L249.5 267.1 L252 265 L254.5 261.3 L257 258.5 L259.5 251.6 L262 250.6 L264.5 246.1 L267 243.8 L269.5 241.4 L272 241.1 L274.5 238.8 L277 235.7 L279.5 231.8 L282 228.1 L284.5 225.3 L287 223.6 L289.5 222.4 L292 220.3 L294.5 220.6 L297 218.7 L299.5 217.3 L302 214 L304.5 211.1 L307 210.4 L309.5 211.2 L312 210.6 L314.5 208.8 L317 205.9 L319.5 201.5 L322 202 L324.5 202 L327 198.4 L329.5 195.9 L332 193.9 L334.5 192.2 L337 191.9 L339.5 191.1 L342 189.7 L344.5 188.6 L347 187.1 L349.5 185.7 L352 181 L354.5 177.8 L357 177.3 L359.5 174 L362 174.9 L364.5 175.1 L367 173.7 L369.5 172.5 L372 171 L374.5 171.7 L377 171.3 L379.5 170.3 L382 167.5 L384.5 168.1 L387 165.6 L389.5 164.9 L392 162.9 L394.5 161.8 L397 162 L399.5 158.3 L402 156.8 L404.5 154.6 L407 152.8 L409.5 152.3 L412 150.4 L414.5 148.3 L417 147.4 L419.5 149.5 L422 148.9 L424.5 147.7 L427 148 L429.5 146.1 L432 146 L434.5 146.6 L437 145.8 L439.5 144.6 L442 141.5 L444.5 142.5 L447 141.9 L449.5 142.6 L452 143.4 L454.5 140.9 L457 140.3 L459.5 138.2 L462 138.3 L464.5 137.1 L467 137.2 L469.5 135.5 L472 134.1 L474.5 132.7 L477 132.4 L479.5 133.8 L482 130.9 L484.5 129.2 L487 129.1 L489.5 128.5 L492 127.3 L494.5 129.2 L497 128.3 L499.5 129.5 L502 128.2 L504.5 125.6 L507 126.4 L509.5 127.7 L512 127.9 L514.5 128.4 L517 126.6 L519.5 124.6 L522 124.8 L524.5 123.8 L527 124 L529.5 122.8 L532 122.1 L534.5 122 L537 121.5 L539.5 120.9 L542 119.7 L544.5 120.5 L547 119.6 L549.5 118.2 L552 117.7 L554.5 116 L557 116 L559.5 116.8 L562 115.7 L564.5 113.7 L567 111.9 L569.5 111.7 L572 110.6 L574.5 109.7 L577 110.1 L579.5 109.7 L582 110.3 L584.5 110.3 L587 109.8 L589.5 110.9 L592 111.4 L594.5 110.5 L597 109.2 L599.5 109.8 L602 110.5 L604.5 109.3 L607 108.4 L609.5 109.6 L612 110.5 L614.5 109.5 L617 108.2 L619.5 108 L622 106.9 L624.5 106.7 L627 107 L629.5 107.2 L632 107.4 L634.5 105.4 L637 103.1 L639.5 104.4 L642 104.5 L644.5 104.8 L647 104.2 L649.5 105.1 L652 105.1 L654.5 103.9 L657 104.4 L659.5 101.9 L662 99.9 L664.5 100.5 L667 101.5 L669.5 100.7 L672 101 L674.5 101.3 L677 101.3 L679.5 102.2 L682 102.6 L684.5 102.2 L687 100.9 L689.5 100.8 L692 100.5 L694.5 99.2 L697 98.1 L699.5 98.2 L702 97.7 L704.5 97.7 L707 98.8 L709.5 100 L712 100.1 L714.5 100 L717 99.4 L719.5 99.9 L722 99.8 L724.5 99.1 L727 97.8 L729.5 98.6 L732 97.2 L734.5 98.4 L737 98.9 L739.5 99.2 L742 99 L744.5 99.8 L747 99.1 L749.5 99 L752 97.8 L754.5 97.8 L757 97.3 L759.5 96.6 L762 98.6 L764.5 99.7 L767 99.5 L769.5 98.1 L772 98.9 L774.5 99.6 L777 99.9 L779.5 98.8 L782 100.3 L784.5 102 L787 101.5 L789.5 100.2 L792 100.5 L794.5 99.5 L797 99.8 L799.5 100.5 L802 100.1 L804.5 101.6 L807 101.8 L809.5 102.4 L812 103.1 L814.5 103.5 L817 104.6 L819.5 103.7 L822 104 L824.5 103.3 L827 102.6 L829.5 101.8 L832 101.7 L834.5 100.7 L837 99.1 L839.5 99.9 L842 100.2 L844.5 99.8 L847 100.6 L849.5 98.6 L852 99.6 L854.5 98.2 L857 97.8 L859.5 98.7 L862 99.6 L864.5 99.7 L867 99.3 L869.5 99.7 L872 101.1 L874.5 99.8 L877 99.8 L879.5 98.7 L882 99.2 L884.5 99.6 L887 100 L889.5 99.8 L892 98.7 L894.5 98 L897 97.5 L899.5 98.2 L902 98.1 L904.5 97.7 L907 98.1 L909.5 96.7 L912 95.5 L914.5 95.4 L917 97.6 L919.5 97.6 L921 97" stroke="#000" stroke-width="8.2"/>
<path d="M157 630.8 L157.7 547.3 L158.5 490.7 L159.2 456.8 L159.9 436.8 L160.6 421.9 L161.4 410 L162.1 399.6 L162.8 389.8 L163.6 380.9 L164.3 372.8 L165 365.7 L165.7 359.8 L166.5 354.9 L167.2 350.6 L167.9 346.6 L168.7 343 L169.4 339.7 L170.1 336.6 L170.8 333.7 L171.6 331 L172.3 328.2 L173 325.5 L173.8 322.7 L174.5 320.1 L175.2 317.5 L175.9 314.9 L176.7 312.4 L177.4 310.1 L178.1 307.7 L178.9 305.5 L179.6 303.3 L180.3 301.3 L181.1 299.3 L181.8 297.4 L182.5 295.6 L183.2 293.9 L184 292.3 L184.7 290.7 L185.4 289.2 L186.2 287.8 L186.9 286.3 L187.6 285 L188.3 283.6 L189.1 282.3 L189.8 281 L190.5 279.8 L191.3 278.5 L192 277.3 L192.7 276 L193.4 274.8 L194.2 273.6 L194.9 272.3 L195.6 271.1 L196.4 269.9 L197.1 268.6 L197.8 267.4 L198.5 266.3 L199.3 265.1 L200 263.9 L202 260.8 L205 256.4 L208 252.2 L211 248.2 L214 244.4 L217 240.7 L220 237.2 L223 234 L226 231 L229 228.2 L232 225.6 L235 223 L238 220.6 L241 218.3 L244 216.1 L247 214 L250 212 L253 210.1 L256 208.3 L259 206.6 L262 204.9 L265 203.3 L268 201.8 L271 200.3 L274 198.8 L277 197.4 L280 196 L283 194.7 L286 193.4 L289 192.1 L292 190.9 L295 189.7 L298 188.6 L301 187.4 L304 186.3 L307 185.1 L310 184 L313 182.9 L316 181.7 L319 180.6 L322 179.5 L325 178.4 L328 177.3 L331 176.2 L334 175.2 L337 174.1 L340 173 L343 171.9 L346 170.8 L349 169.7 L352 168.6 L355 167.5 L358 166.4 L361 165.3 L364 164.2 L367 163.2 L370 162.1 L373 161.1 L376 160.1 L379 159.1 L382 158.1 L385 157.2 L388 156.2 L391 155.3 L394 154.4 L397 153.5 L400 152.6 L403 151.7 L406 150.9 L409 150.1 L412 149.3 L415 148.5 L418 147.8 L421 147.2 L424 146.5 L427 145.9 L430 145.3 L433 144.8 L436 144.2 L439 143.6 L442 143.1 L445 142.5 L448 141.9 L451 141.4 L454 140.8 L457 140.2 L460 139.6 L463 138.9 L466 138.3 L469 137.7 L472 137.1 L475 136.5 L478 135.9 L481 135.3 L484 134.7 L487 134.1 L490 133.5 L493 132.9 L496 132.3 L499 131.7 L502 131.1 L505 130.4 L508 129.8 L511 129.2 L514 128.6 L517 128 L520 127.4 L523 126.9 L526 126.3 L529 125.8 L532 125.3 L535 124.8 L538 124.3 L541 123.8 L544 123.4 L547 122.9 L550 122.4 L553 122 L556 121.6 L559 121.1 L562 120.7 L565 120.2 L568 119.8 L571 119.4 L574 118.9 L577 118.5 L580 118.1 L583 117.7 L586 117.2 L589 116.8 L592 116.4 L595 116 L598 115.6 L601 115.2 L604 114.9 L607 114.5 L610 114.1 L613 113.7 L616 113.2 L619 112.8 L622 112.4 L625 112 L628 111.7 L631 111.4 L634 111.1 L637 111 L640 110.9 L643 110.9 L646 110.8 L649 110.8 L652 110.8 L655 110.8 L658 110.8 L661 110.8 L664 110.8 L667 110.8 L670 110.7 L673 110.7 L676 110.7 L679 110.5 L682 110.3 L685 110 L688 109.7 L691 109.3 L694 108.9 L697 108.4 L700 108 L703 107.5 L706 107 L709 106.6 L712 106.2 L715 105.8 L718 105.5 L721 105.2 L724 104.9 L727 104.7 L730 104.4 L733 104.1 L736 103.9 L739 103.6 L742 103.4 L745 103.2 L748 102.9 L751 102.7 L754 102.5 L757 102.3 L760 102.1 L763 101.9 L766 101.7 L769 101.5 L772 101.3 L775 101.1 L778 101 L781 100.8 L784 100.6 L787 100.5 L790 100.3 L793 100.2 L796 100 L799 99.8 L802 99.7 L805 99.5 L808 99.3 L811 99.2 L814 99 L817 98.8 L820 98.6 L823 98.5 L826 98.3 L829 98.1 L832 98 L835 97.8 L838 97.6 L841 97.5 L844 97.3 L847 97.2 L850 97 L853 96.9 L856 96.7 L859 96.6 L862 96.4 L865 96.3 L868 96.2 L871 96 L874 95.9 L877 95.8 L880 95.6 L883 95.5 L886 95.4 L889 95.2 L892 95.1 L895 95 L898 94.8 L901 94.6 L904 94.5 L907 94.3 L910 94.2 L913 94 L916 93.9 L919 93.7 L922.5 93.5" stroke="#808080" stroke-width="8.6" stroke-dasharray="32.6 11.5" stroke-dashoffset="39.9"/>
</g>
<g stroke="#000" fill="none">
<path d="M1240.9 630.8V622.8" stroke-width="2.1"/>
<path d="M1266.4 630.8V622.8" stroke-width="2.1"/>
<path d="M1292 630.8V622.8" stroke-width="2.1"/>
<path d="M1317.5 630.8V622.8" stroke-width="2.1"/>
<path d="M1343 630.8V615.2" stroke-width="4.2"/>
<path d="M1368.5 630.8V622.8" stroke-width="2.1"/>
<path d="M1394 630.8V622.8" stroke-width="2.1"/>
<path d="M1419.6 630.8V622.8" stroke-width="2.1"/>
<path d="M1445.1 630.8V622.8" stroke-width="2.1"/>
<path d="M1470.6 630.8V615.2" stroke-width="4.2"/>
<path d="M1496.1 630.8V622.8" stroke-width="2.1"/>
<path d="M1521.6 630.8V622.8" stroke-width="2.1"/>
<path d="M1547.2 630.8V622.8" stroke-width="2.1"/>
<path d="M1572.7 630.8V622.8" stroke-width="2.1"/>
<path d="M1598.2 630.8V615.2" stroke-width="4.2"/>
<path d="M1623.7 630.8V622.8" stroke-width="2.1"/>
<path d="M1649.2 630.8V622.8" stroke-width="2.1"/>
<path d="M1674.8 630.8V622.8" stroke-width="2.1"/>
<path d="M1700.3 630.8V622.8" stroke-width="2.1"/>
<path d="M1725.8 630.8V615.2" stroke-width="4.2"/>
<path d="M1751.3 630.8V622.8" stroke-width="2.1"/>
<path d="M1776.8 630.8V622.8" stroke-width="2.1"/>
<path d="M1802.4 630.8V622.8" stroke-width="2.1"/>
<path d="M1827.9 630.8V622.8" stroke-width="2.1"/>
<path d="M1853.4 630.8V615.2" stroke-width="4.2"/>
<path d="M1878.9 630.8V622.8" stroke-width="2.1"/>
<path d="M1904.4 630.8V622.8" stroke-width="2.1"/>
<path d="M1930 630.8V622.8" stroke-width="2.1"/>
<path d="M1955.5 630.8V622.8" stroke-width="2.1"/>
<path d="M1215.4 604.3H1223.4" stroke-width="2.1"/>
<path d="M1215.4 577.8H1231" stroke-width="4.2"/>
<path d="M1215.4 551.4H1223.4" stroke-width="2.1"/>
<path d="M1215.4 524.9H1223.4" stroke-width="2.1"/>
<path d="M1215.4 498.4H1223.4" stroke-width="2.1"/>
<path d="M1215.4 471.9H1231" stroke-width="4.2"/>
<path d="M1215.4 445.5H1223.4" stroke-width="2.1"/>
<path d="M1215.4 419H1223.4" stroke-width="2.1"/>
<path d="M1215.4 392.5H1223.4" stroke-width="2.1"/>
<path d="M1215.4 366H1231" stroke-width="4.2"/>
<path d="M1215.4 339.5H1223.4" stroke-width="2.1"/>
<path d="M1215.4 313.1H1223.4" stroke-width="2.1"/>
<path d="M1215.4 286.6H1223.4" stroke-width="2.1"/>
<path d="M1215.4 260.1H1231" stroke-width="4.2"/>
<path d="M1215.4 233.6H1223.4" stroke-width="2.1"/>
<path d="M1215.4 207.1H1223.4" stroke-width="2.1"/>
<path d="M1215.4 180.7H1223.4" stroke-width="2.1"/>
<path d="M1215.4 154.2H1231" stroke-width="4.2"/>
<path d="M1215.4 127.7H1223.4" stroke-width="2.1"/>
<path d="M1215.4 101.2H1223.4" stroke-width="2.1"/>
<path d="M1215.4 74.8H1223.4" stroke-width="2.1"/>
<path d="M1215.4 48.3H1231" stroke-width="4.2"/>
</g>
<g clip-path="url(#cr)" fill="none" stroke-linejoin="round" stroke-linecap="butt">
<path d="M1216.4 546.5 L1216.9 531.1 L1217.4 516 L1218 501.2 L1218.5 486.7 L1219 472.6 L1219.5 458.8 L1220 445.4 L1220.5 432.2 L1221 419.4 L1221.5 406.7 L1222 394.3 L1222.5 382 L1223.1 370 L1223.6 358.1 L1224.1 346.4 L1224.6 334.9 L1225.1 323.6 L1225.6 312.5 L1226.1 301.6 L1226.6 290.8 L1227.1 280.3 L1227.6 270 L1228.2 259.8 L1228.7 249.9 L1229.2 240.2 L1229.7 230.7 L1230.2 221.4 L1230.7 212.3 L1231.2 203.4 L1231.7 194.8 L1232.2 186.4 L1232.8 178.2 L1233.3 170.2 L1233.8 162.5 L1234.3 155 L1234.8 147.7 L1235.3 140.7 L1235.8 133.9 L1236.3 127.4 L1236.8 121.1 L1237.3 115.1 L1237.9 109.3 L1238.4 103.8 L1238.9 98.5 L1239.4 93.5 L1239.9 88.8 L1240.4 84.3 L1240.9 80.1 L1241.4 76.1 L1241.9 72.4 L1242.5 69 L1243 65.9 L1243.5 63 L1244 60.4 L1244.5 58.1 L1245 56.1 L1245.5 54.3 L1246 52.9 L1246.5 51.7 L1247 50.7 L1247.6 50.1 L1248.1 49.7 L1248.6 49.5 L1249.1 49.6 L1249.6 49.9 L1250.1 50.4 L1250.6 51.2 L1251.1 52.1 L1251.6 53.3 L1252.1 54.6 L1252.7 56.2 L1253.2 58 L1253.7 60 L1254.2 62.2 L1254.7 64.6 L1255.2 67.2 L1255.7 70 L1256.2 72.9 L1256.7 75.9 L1257.3 79 L1257.8 82.3 L1258.3 85.7 L1258.8 89.2 L1259.3 92.9 L1259.8 96.7 L1260.3 100.6 L1260.8 104.7 L1261.3 108.9 L1261.8 113.1 L1262.4 117.3 L1262.9 121.6 L1263.4 125.7 L1263.9 129.8 L1264.4 133.7 L1264.9 137.6 L1265.4 141.4 L1265.9 145.1 L1266.4 148.8 L1267 152.4 L1267.5 156 L1268 159.5 L1268.5 163 L1269 166.5 L1269.5 169.9 L1270 173.3 L1270.5 176.6 L1271 179.8 L1271.5 183 L1272.1 186.2 L1272.6 189.4 L1273.1 192.7 L1273.6 196 L1274.1 199.5 L1274.6 203 L1275.1 206.5 L1275.6 210 L1276.1 213.6 L1276.6 217.1 L1277.2 220.6 L1277.7 224.1 L1278.2 227.5 L1278.7 230.8 L1279.2 234.1 L1279.7 237.3 L1280.2 240.5 L1280.7 243.6 L1281.2 246.6 L1281.8 249.6 L1282.3 252.5 L1282.8 255.3 L1283.3 258.1 L1283.8 260.8 L1284.3 263.5 L1284.8 266 L1285.3 268.5 L1285.8 271 L1286.3 273.3 L1286.9 275.6 L1287.4 277.9 L1287.9 280 L1288.4 282.1 L1288.9 284.1 L1289.4 286.1 L1289.9 288 L1290.4 289.8 L1290.9 291.5 L1291.4 293.2 L1292 294.8 L1292.5 296.4 L1293 297.9 L1293.5 299.3 L1294 300.7 L1294.5 302 L1295 303.2 L1295.5 304.4 L1296 305.5 L1296.6 306.6 L1297.1 307.5 L1297.6 308.5 L1298.1 309.3 L1298.6 310.1 L1299.1 310.8 L1299.6 311.5 L1300.1 312.2 L1300.6 312.7 L1301.1 313.3 L1301.7 313.7 L1302.2 314.2 L1302.7 314.6 L1303.2 314.9 L1303.7 315.2 L1304.2 315.5 L1304.7 315.7 L1305.2 315.9 L1305.7 316 L1306.3 316.1 L1306.8 316.2 L1307.3 316.2 L1307.8 316.3 L1308.3 316.3 L1308.8 316.2 L1309.3 316.2 L1309.8 316.1 L1310.3 316 L1310.8 315.9 L1311.4 315.7 L1311.9 315.5 L1312.4 315.4 L1312.9 315.2 L1313.4 315 L1313.9 314.7 L1314.4 314.5 L1314.9 314.2 L1315.4 314 L1315.9 313.7 L1316.5 313.5 L1317 313.2 L1317.5 312.9 L1318 312.6 L1318.5 312.3 L1319 312 L1319.5 311.8 L1320 311.5 L1320.5 311.2 L1321.1 310.9 L1321.6 310.6 L1322.1 310.3 L1322.6 310 L1323.1 309.8 L1323.6 309.5 L1324.1 309.2 L1324.6 309 L1325.1 308.7 L1325.6 308.5 L1326.2 308.2 L1326.7 308 L1327.2 307.8 L1327.7 307.5 L1328.2 307.3 L1328.7 307.1 L1329.2 306.9 L1329.7 306.7 L1330.2 306.6 L1330.8 306.4 L1331.3 306.3 L1331.8 306.1 L1332.3 306 L1332.8 305.9 L1333.3 305.8 L1333.8 305.7 L1334.3 305.6 L1334.8 305.6 L1335.3 305.6 L1335.9 305.5 L1336.4 305.5 L1336.9 305.6 L1337.4 305.6 L1337.9 305.6 L1338.4 305.7 L1338.9 305.8 L1339.4 305.9 L1339.9 306 L1340.4 306.2 L1341 306.3 L1341.5 306.5 L1342 306.7 L1342.5 306.9 L1343 307.1 L1343.5 307.4 L1344 307.6 L1344.5 307.9 L1345 308.2 L1345.6 308.5 L1346.1 308.9 L1346.6 309.2 L1347.1 309.6 L1347.6 310 L1348.1 310.4 L1348.6 310.8 L1349.1 311.2 L1349.6 311.7 L1350.1 312.1 L1350.7 312.6 L1351.2 313.1 L1351.7 313.6 L1352.2 314.1 L1352.7 314.7 L1353.2 315.2 L1353.7 315.8 L1354.2 316.3 L1354.7 316.9 L1355.2 317.5 L1355.8 318.1 L1356.3 318.7 L1356.8 319.3 L1357.3 319.9 L1357.8 320.6 L1358.3 321.2 L1358.8 321.9 L1359.3 322.6 L1359.8 323.2 L1360.4 323.9 L1360.9 324.6 L1361.4 325.3 L1361.9 326 L1362.4 326.8 L1362.9 327.5 L1363.4 328.2 L1363.9 328.9 L1364.4 329.7 L1364.9 330.4 L1365.5 331.2 L1366 332 L1366.5 332.7 L1367 333.5 L1367.5 334.3 L1368 335.1 L1368.5 335.9 L1369 336.6 L1369.5 337.4 L1370.1 338.2 L1370.6 339 L1371.1 339.8 L1371.6 340.7 L1372.1 341.5 L1372.6 342.3 L1373.1 343.1 L1373.6 343.9 L1374.1 344.7 L1374.6 345.5 L1375.2 346.3 L1375.7 347.2 L1376.2 348 L1376.7 348.8 L1377.2 349.6 L1377.7 350.4 L1378.2 351.3 L1378.7 352.1 L1379.2 352.9 L1379.7 353.7 L1380.3 354.5 L1380.8 355.4 L1381.3 356.2 L1381.8 357 L1382.3 357.8 L1382.8 358.7 L1383.3 359.5 L1383.8 360.3 L1384.3 361.2 L1384.9 362 L1385.4 362.8 L1385.9 363.6 L1386.4 364.5 L1386.9 365.3 L1387.4 366.2 L1387.9 367 L1388.4 367.8 L1388.9 368.7 L1389.4 369.5 L1390 370.4 L1390.5 371.2 L1391 372.1 L1391.5 372.9 L1392 373.8 L1392.5 374.6 L1393 375.5 L1393.5 376.4 L1394 377.2 L1396.1 380.7 L1398.1 384.2 L1400.2 387.6 L1402.2 391.1 L1404.2 394.6 L1406.3 398 L1408.3 401.5 L1410.4 404.9 L1412.4 408.3 L1414.5 411.7 L1416.5 415 L1418.5 418.2 L1420.6 421.5 L1422.6 424.6 L1424.7 427.8 L1426.7 430.9 L1428.7 433.9 L1430.8 436.9 L1432.8 439.8 L1434.9 442.7 L1436.9 445.5 L1439 448.3 L1441 451 L1443 453.7 L1445.1 456.3 L1447.1 458.8 L1449.2 461.2 L1451.2 463.5 L1453.2 465.8 L1455.3 468 L1457.3 470.1 L1459.4 472.1 L1461.4 474.1 L1463.5 476 L1465.5 477.9 L1467.5 479.7 L1469.6 481.5 L1471.6 483.3 L1473.7 485 L1475.7 486.7 L1477.7 488.4 L1479.8 490 L1481.8 491.6 L1483.9 493.1 L1485.9 494.7 L1488 496.2 L1490 497.7 L1492 499.2 L1494.1 500.6 L1496.1 502.1 L1498.2 503.5 L1500.2 504.9 L1502.2 506.3 L1504.3 507.6 L1506.3 509 L1508.4 510.3 L1510.4 511.6 L1512.5 512.9 L1514.5 514.2 L1516.5 515.4 L1518.6 516.7 L1520.6 517.9 L1522.7 519.1 L1524.7 520.2 L1526.7 521.4 L1528.8 522.5 L1530.8 523.6 L1532.9 524.7 L1534.9 525.7 L1537 526.8 L1539 527.9 L1541 528.9 L1543.1 529.9 L1545.1 530.9 L1547.2 532 L1549.2 533 L1551.2 534 L1553.3 535 L1555.3 536 L1557.4 537 L1559.4 537.9 L1561.5 538.9 L1563.5 539.8 L1565.5 540.8 L1567.6 541.7 L1569.6 542.6 L1571.7 543.5 L1573.7 544.3 L1575.7 545.2 L1577.8 546 L1579.8 546.8 L1581.9 547.6 L1583.9 548.4 L1586 549.1 L1588 549.9 L1590 550.6 L1592.1 551.4 L1594.1 552 L1596.2 552.7 L1598.2 553.4 L1600.2 554 L1602.3 554.7 L1604.3 555.3 L1606.4 555.9 L1608.4 556.5 L1610.4 557 L1612.5 557.6 L1614.5 558.1 L1616.6 558.6 L1618.6 559.1 L1620.7 559.6 L1622.7 560.1 L1624.7 560.5 L1626.8 561 L1628.8 561.4 L1630.9 561.8 L1632.9 562.2 L1634.9 562.6 L1637 563 L1639 563.4 L1641.1 563.7 L1643.1 564.1 L1645.2 564.4 L1647.2 564.7 L1649.2 565 L1651.3 565.3 L1653.3 565.5 L1655.4 565.8 L1657.4 566 L1659.4 566.3 L1661.5 566.5 L1663.5 566.7 L1665.6 567 L1667.6 567.2 L1669.7 567.4 L1671.7 567.6 L1673.7 567.8 L1675.8 568 L1677.8 568.2 L1679.9 568.4 L1681.9 568.6 L1683.9 568.7 L1686 568.9 L1688 569.1 L1690.1 569.2 L1692.1 569.4 L1694.2 569.6 L1696.2 569.7 L1698.2 569.9 L1700.3 570 L1702.3 570.1 L1704.4 570.3 L1706.4 570.4 L1708.4 570.5 L1710.5 570.7 L1712.5 570.8 L1714.6 570.9 L1716.6 571 L1718.7 571.2 L1720.7 571.3 L1722.7 571.4 L1724.8 571.5 L1726.8 571.6 L1728.9 571.7 L1730.9 571.8 L1732.9 571.9 L1735 572 L1737 572.1 L1739.1 572.2 L1741.1 572.3 L1743.2 572.4 L1745.2 572.5 L1747.2 572.6 L1749.3 572.7 L1751.3 572.8 L1753.4 572.8 L1755.4 572.9 L1757.4 573 L1759.5 573.1 L1761.5 573.2 L1763.6 573.3 L1765.6 573.4 L1767.7 573.4 L1769.7 573.5 L1771.7 573.6 L1773.8 573.7 L1775.8 573.8 L1777.9 573.9 L1779.9 573.9 L1781.9 574 L1784 574.1 L1786 574.2 L1788.1 574.3 L1790.1 574.3 L1792.2 574.4 L1794.2 574.5 L1796.2 574.6 L1798.3 574.6 L1800.3 574.7 L1802.4 574.8 L1804.4 574.9 L1806.4 574.9 L1808.5 575 L1810.5 575.1 L1812.6 575.1 L1814.6 575.2 L1816.7 575.2 L1818.7 575.3 L1820.7 575.4 L1822.8 575.4 L1824.8 575.5 L1826.9 575.5 L1828.9 575.6 L1830.9 575.6 L1833 575.7 L1835 575.7 L1837.1 575.8 L1839.1 575.8 L1841.2 575.8 L1843.2 575.9 L1845.2 575.9 L1847.3 575.9 L1849.3 576 L1851.4 576 L1853.4 576 L1855.4 576.1 L1857.5 576.1 L1859.5 576.1 L1861.6 576.1 L1863.6 576.2 L1865.6 576.2 L1867.7 576.2 L1869.7 576.2 L1871.8 576.2 L1873.8 576.3 L1875.9 576.3 L1877.9 576.3 L1879.9 576.3 L1882 576.3 L1884 576.4 L1886.1 576.4 L1888.1 576.4 L1890.1 576.4 L1892.2 576.4 L1894.2 576.4 L1896.3 576.5 L1898.3 576.5 L1900.4 576.5 L1902.4 576.5 L1904.4 576.5 L1906.5 576.5 L1908.5 576.6 L1910.6 576.6 L1912.6 576.6 L1914.6 576.6 L1916.7 576.6 L1918.7 576.6 L1920.8 576.6 L1922.8 576.7 L1924.9 576.7 L1926.9 576.7 L1928.9 576.7 L1931 576.7 L1933 576.7 L1935.1 576.7 L1937.1 576.7 L1939.1 576.8 L1941.2 576.8 L1943.2 576.8 L1945.3 576.8 L1947.3 576.8 L1949.4 576.8 L1951.4 576.8 L1953.4 576.9 L1955.5 576.9 L1957.5 576.9 L1959.6 576.9 L1961.6 576.9 L1963.6 576.9 L1965.7 576.9 L1967.7 576.9 L1969.8 577 L1971.8 577 L1973.9 577 L1975.9 577 L1977.9 577 L1980 577 L1980.5 577" stroke="#35608d" stroke-width="8.4"/>
<path d="M1216.4 547.9 L1216.9 533.3 L1217.4 518.9 L1218 505 L1218.5 491.5 L1219 478.5 L1219.5 466.1 L1220 454.2 L1220.5 442.8 L1221 431.9 L1221.5 421.3 L1222 411 L1222.5 401 L1223.1 391.2 L1223.6 381.5 L1224.1 372 L1224.6 362.7 L1225.1 353.5 L1225.6 344.5 L1226.1 335.6 L1226.6 326.9 L1227.1 318.3 L1227.6 309.9 L1228.2 301.6 L1228.7 293.4 L1229.2 285.4 L1229.7 277.5 L1230.2 269.8 L1230.7 262.1 L1231.2 254.6 L1231.7 247.3 L1232.2 240.1 L1232.8 233 L1233.3 226 L1233.8 219.1 L1234.3 212.4 L1234.8 205.8 L1235.3 199.4 L1235.8 193.1 L1236.3 186.9 L1236.8 180.8 L1237.3 174.9 L1237.9 169.1 L1238.4 163.4 L1238.9 157.9 L1239.4 152.5 L1239.9 147.2 L1240.4 142.1 L1240.9 137.1 L1241.4 132.2 L1241.9 127.4 L1242.5 122.8 L1243 118.4 L1243.5 114 L1244 109.8 L1244.5 105.8 L1245 101.9 L1245.5 98.1 L1246 94.4 L1246.5 90.9 L1247 87.5 L1247.6 84.3 L1248.1 81.2 L1248.6 78.2 L1249.1 75.4 L1249.6 72.8 L1250.1 70.2 L1250.6 67.8 L1251.1 65.6 L1251.6 63.5 L1252.1 61.5 L1252.7 59.6 L1253.2 58 L1253.7 56.4 L1254.2 55 L1254.7 53.8 L1255.2 52.7 L1255.7 51.8 L1256.2 51 L1256.7 50.3 L1257.3 49.8 L1257.8 49.4 L1258.3 49.1 L1258.8 48.9 L1259.3 48.9 L1259.8 49 L1260.3 49.2 L1260.8 49.5 L1261.3 49.9 L1261.8 50.4 L1262.4 50.9 L1262.9 51.5 L1263.4 52.1 L1263.9 52.8 L1264.4 53.6 L1264.9 54.5 L1265.4 55.4 L1265.9 56.3 L1266.4 57.3 L1267 58.3 L1267.5 59.3 L1268 60.3 L1268.5 61.3 L1269 62.3 L1269.5 63.3 L1270 64.3 L1270.5 65.2 L1271 66.2 L1271.5 67.2 L1272.1 68.1 L1272.6 69.1 L1273.1 70.1 L1273.6 71.1 L1274.1 72.1 L1274.6 73.1 L1275.1 74.1 L1275.6 75.1 L1276.1 76.1 L1276.6 77.1 L1277.2 78.1 L1277.7 79 L1278.2 79.9 L1278.7 80.8 L1279.2 81.7 L1279.7 82.6 L1280.2 83.4 L1280.7 84.1 L1281.2 84.9 L1281.8 85.6 L1282.3 86.3 L1282.8 87 L1283.3 87.6 L1283.8 88.2 L1284.3 88.7 L1284.8 89.3 L1285.3 89.8 L1285.8 90.2 L1286.3 90.7 L1286.9 91.1 L1287.4 91.5 L1287.9 91.8 L1288.4 92.1 L1288.9 92.4 L1289.4 92.6 L1289.9 92.8 L1290.4 93 L1290.9 93.2 L1291.4 93.3 L1292 93.4 L1292.5 93.4 L1293 93.5 L1293.5 93.5 L1294 93.4 L1294.5 93.4 L1295 93.3 L1295.5 93.2 L1296 93.1 L1296.6 92.9 L1297.1 92.7 L1297.6 92.6 L1298.1 92.4 L1298.6 92.2 L1299.1 92 L1299.6 91.7 L1300.1 91.5 L1300.6 91.2 L1301.1 90.9 L1301.7 90.7 L1302.2 90.4 L1302.7 90.1 L1303.2 89.8 L1303.7 89.5 L1304.2 89.1 L1304.7 88.8 L1305.2 88.5 L1305.7 88.2 L1306.3 87.9 L1306.8 87.5 L1307.3 87.2 L1307.8 86.9 L1308.3 86.6 L1308.8 86.3 L1309.3 86 L1309.8 85.7 L1310.3 85.4 L1310.8 85.1 L1311.4 84.9 L1311.9 84.6 L1312.4 84.4 L1312.9 84.2 L1313.4 83.9 L1313.9 83.7 L1314.4 83.6 L1314.9 83.4 L1315.4 83.3 L1315.9 83.1 L1316.5 83 L1317 83 L1317.5 82.9 L1318 82.9 L1318.5 82.9 L1319 82.9 L1319.5 83 L1320 83 L1320.5 83.2 L1321.1 83.3 L1321.6 83.5 L1322.1 83.7 L1322.6 83.9 L1323.1 84.2 L1323.6 84.4 L1324.1 84.8 L1324.6 85.1 L1325.1 85.5 L1325.6 85.9 L1326.2 86.4 L1326.7 86.9 L1327.2 87.4 L1327.7 88 L1328.2 88.5 L1328.7 89.2 L1329.2 89.8 L1329.7 90.5 L1330.2 91.2 L1330.8 91.9 L1331.3 92.7 L1331.8 93.5 L1332.3 94.4 L1332.8 95.2 L1333.3 96.1 L1333.8 97 L1334.3 98 L1334.8 99 L1335.3 100 L1335.9 101 L1336.4 102.1 L1336.9 103.2 L1337.4 104.4 L1337.9 105.5 L1338.4 106.8 L1338.9 108 L1339.4 109.2 L1339.9 110.5 L1340.4 111.9 L1341 113.2 L1341.5 114.6 L1342 116 L1342.5 117.4 L1343 118.8 L1343.5 120.3 L1344 121.8 L1344.5 123.3 L1345 124.9 L1345.6 126.4 L1346.1 128 L1346.6 129.6 L1347.1 131.2 L1347.6 132.8 L1348.1 134.4 L1348.6 136 L1349.1 137.7 L1349.6 139.3 L1350.1 141 L1350.7 142.6 L1351.2 144.3 L1351.7 146 L1352.2 147.7 L1352.7 149.4 L1353.2 151.1 L1353.7 152.8 L1354.2 154.5 L1354.7 156.2 L1355.2 157.9 L1355.8 159.7 L1356.3 161.4 L1356.8 163.1 L1357.3 164.9 L1357.8 166.6 L1358.3 168.4 L1358.8 170.1 L1359.3 171.9 L1359.8 173.6 L1360.4 175.4 L1360.9 177.2 L1361.4 178.9 L1361.9 180.7 L1362.4 182.5 L1362.9 184.3 L1363.4 186 L1363.9 187.8 L1364.4 189.6 L1364.9 191.3 L1365.5 193.1 L1366 194.9 L1366.5 196.6 L1367 198.4 L1367.5 200.1 L1368 201.9 L1368.5 203.6 L1369 205.3 L1369.5 207 L1370.1 208.7 L1370.6 210.4 L1371.1 212.1 L1371.6 213.7 L1372.1 215.4 L1372.6 217 L1373.1 218.6 L1373.6 220.2 L1374.1 221.8 L1374.6 223.3 L1375.2 224.9 L1375.7 226.4 L1376.2 227.9 L1376.7 229.4 L1377.2 230.8 L1377.7 232.3 L1378.2 233.7 L1378.7 235.1 L1379.2 236.5 L1379.7 237.8 L1380.3 239.2 L1380.8 240.5 L1381.3 241.8 L1381.8 243.1 L1382.3 244.4 L1382.8 245.6 L1383.3 246.8 L1383.8 248.1 L1384.3 249.3 L1384.9 250.4 L1385.4 251.6 L1385.9 252.8 L1386.4 253.9 L1386.9 255 L1387.4 256.1 L1387.9 257.2 L1388.4 258.3 L1388.9 259.3 L1389.4 260.4 L1390 261.4 L1390.5 262.4 L1391 263.4 L1391.5 264.5 L1392 265.4 L1392.5 266.4 L1393 267.4 L1393.5 268.4 L1394 269.4 L1396.1 273.3 L1398.1 277.2 L1400.2 281.1 L1402.2 285.1 L1404.2 289.2 L1406.3 293.4 L1408.3 297.6 L1410.4 301.9 L1412.4 306.1 L1414.5 310.4 L1416.5 314.7 L1418.5 319 L1420.6 323.3 L1422.6 327.5 L1424.7 331.7 L1426.7 335.8 L1428.7 339.9 L1430.8 343.9 L1432.8 347.8 L1434.9 351.6 L1436.9 355.4 L1439 359.2 L1441 362.9 L1443 366.6 L1445.1 370.4 L1447.1 374.1 L1449.2 377.9 L1451.2 381.7 L1453.2 385.6 L1455.3 389.4 L1457.3 393.2 L1459.4 397.1 L1461.4 400.9 L1463.5 404.6 L1465.5 408.3 L1467.5 412 L1469.6 415.5 L1471.6 419 L1473.7 422.5 L1475.7 425.8 L1477.7 429.1 L1479.8 432.4 L1481.8 435.6 L1483.9 438.7 L1485.9 441.8 L1488 444.8 L1490 447.7 L1492 450.6 L1494.1 453.3 L1496.1 456 L1498.2 458.6 L1500.2 461.2 L1502.2 463.7 L1504.3 466.1 L1506.3 468.5 L1508.4 470.8 L1510.4 473.1 L1512.5 475.4 L1514.5 477.6 L1516.5 479.8 L1518.6 482 L1520.6 484.2 L1522.7 486.2 L1524.7 488.3 L1526.7 490.3 L1528.8 492.3 L1530.8 494.2 L1532.9 496.1 L1534.9 497.9 L1537 499.7 L1539 501.5 L1541 503.1 L1543.1 504.8 L1545.1 506.4 L1547.2 507.9 L1549.2 509.4 L1551.2 510.8 L1553.3 512.2 L1555.3 513.6 L1557.4 514.9 L1559.4 516.3 L1561.5 517.5 L1563.5 518.8 L1565.5 520 L1567.6 521.2 L1569.6 522.4 L1571.7 523.6 L1573.7 524.7 L1575.7 525.8 L1577.8 526.9 L1579.8 527.9 L1581.9 529 L1583.9 530 L1586 530.9 L1588 531.9 L1590 532.8 L1592.1 533.7 L1594.1 534.6 L1596.2 535.5 L1598.2 536.3 L1600.2 537.1 L1602.3 537.9 L1604.3 538.7 L1606.4 539.4 L1608.4 540.2 L1610.4 540.9 L1612.5 541.6 L1614.5 542.3 L1616.6 543 L1618.6 543.7 L1620.7 544.3 L1622.7 545 L1624.7 545.6 L1626.8 546.2 L1628.8 546.8 L1630.9 547.4 L1632.9 548 L1634.9 548.6 L1637 549.1 L1639 549.7 L1641.1 550.2 L1643.1 550.7 L1645.2 551.2 L1647.2 551.7 L1649.2 552.2 L1651.3 552.7 L1653.3 553.2 L1655.4 553.6 L1657.4 554.1 L1659.4 554.5 L1661.5 555 L1663.5 555.4 L1665.6 555.8 L1667.6 556.2 L1669.7 556.6 L1671.7 557 L1673.7 557.4 L1675.8 557.8 L1677.8 558.2 L1679.9 558.6 L1681.9 558.9 L1683.9 559.3 L1686 559.7 L1688 560 L1690.1 560.3 L1692.1 560.7 L1694.2 561 L1696.2 561.3 L1698.2 561.6 L1700.3 561.9 L1702.3 562.2 L1704.4 562.5 L1706.4 562.8 L1708.4 563.1 L1710.5 563.4 L1712.5 563.7 L1714.6 564 L1716.6 564.3 L1718.7 564.5 L1720.7 564.8 L1722.7 565.1 L1724.8 565.3 L1726.8 565.6 L1728.9 565.8 L1730.9 566 L1732.9 566.3 L1735 566.5 L1737 566.7 L1739.1 567 L1741.1 567.2 L1743.2 567.4 L1745.2 567.6 L1747.2 567.8 L1749.3 568 L1751.3 568.2 L1753.4 568.3 L1755.4 568.5 L1757.4 568.7 L1759.5 568.9 L1761.5 569.1 L1763.6 569.2 L1765.6 569.4 L1767.7 569.6 L1769.7 569.8 L1771.7 569.9 L1773.8 570.1 L1775.8 570.3 L1777.9 570.4 L1779.9 570.6 L1781.9 570.8 L1784 570.9 L1786 571.1 L1788.1 571.2 L1790.1 571.4 L1792.2 571.6 L1794.2 571.7 L1796.2 571.9 L1798.3 572 L1800.3 572.1 L1802.4 572.3 L1804.4 572.4 L1806.4 572.6 L1808.5 572.7 L1810.5 572.8 L1812.6 573 L1814.6 573.1 L1816.7 573.2 L1818.7 573.3 L1820.7 573.4 L1822.8 573.5 L1824.8 573.6 L1826.9 573.8 L1828.9 573.9 L1830.9 573.9 L1833 574 L1835 574.1 L1837.1 574.2 L1839.1 574.3 L1841.2 574.4 L1843.2 574.4 L1845.2 574.5 L1847.3 574.6 L1849.3 574.6 L1851.4 574.7 L1853.4 574.7 L1855.4 574.8 L1857.5 574.9 L1859.5 574.9 L1861.6 574.9 L1863.6 575 L1865.6 575 L1867.7 575.1 L1869.7 575.1 L1871.8 575.2 L1873.8 575.2 L1875.9 575.3 L1877.9 575.3 L1879.9 575.3 L1882 575.4 L1884 575.4 L1886.1 575.4 L1888.1 575.5 L1890.1 575.5 L1892.2 575.5 L1894.2 575.6 L1896.3 575.6 L1898.3 575.6 L1900.4 575.7 L1902.4 575.7 L1904.4 575.7 L1906.5 575.8 L1908.5 575.8 L1910.6 575.8 L1912.6 575.9 L1914.6 575.9 L1916.7 575.9 L1918.7 575.9 L1920.8 576 L1922.8 576 L1924.9 576 L1926.9 576 L1928.9 576.1 L1931 576.1 L1933 576.1 L1935.1 576.2 L1937.1 576.2 L1939.1 576.2 L1941.2 576.2 L1943.2 576.3 L1945.3 576.3 L1947.3 576.3 L1949.4 576.3 L1951.4 576.4 L1953.4 576.4 L1955.5 576.4 L1957.5 576.4 L1959.6 576.5 L1961.6 576.5 L1963.6 576.5 L1965.7 576.6 L1967.7 576.6 L1969.8 576.6 L1971.8 576.6 L1973.9 576.7 L1975.9 576.7 L1977.9 576.7 L1980 576.7 L1980.5 576.7" stroke="#22a884" stroke-width="8.4"/>
<path d="M1216.4 566.2 L1216.9 560.4 L1217.4 554.5 L1218 548.7 L1218.5 542.9 L1219 537 L1219.5 531.2 L1220 525.3 L1220.5 519.4 L1221 513.5 L1221.5 507.6 L1222 501.6 L1222.5 495.7 L1223.1 489.7 L1223.6 483.7 L1224.1 477.7 L1224.6 471.8 L1225.1 465.8 L1225.6 459.8 L1226.1 453.8 L1226.6 447.9 L1227.1 441.9 L1227.6 436 L1228.2 430.1 L1228.7 424.2 L1229.2 418.3 L1229.7 412.4 L1230.2 406.6 L1230.7 400.7 L1231.2 394.9 L1231.7 389.1 L1232.2 383.4 L1232.8 377.6 L1233.3 371.9 L1233.8 366.2 L1234.3 360.5 L1234.8 354.9 L1235.3 349.2 L1235.8 343.6 L1236.3 338.1 L1236.8 332.5 L1237.3 327 L1237.9 321.6 L1238.4 316.1 L1238.9 310.7 L1239.4 305.4 L1239.9 300 L1240.4 294.7 L1240.9 289.5 L1241.4 284.2 L1241.9 279.1 L1242.5 273.9 L1243 268.8 L1243.5 263.8 L1244 258.8 L1244.5 253.8 L1245 248.9 L1245.5 244 L1246 239.1 L1246.5 234.3 L1247 229.6 L1247.6 224.9 L1248.1 220.2 L1248.6 215.6 L1249.1 211.1 L1249.6 206.6 L1250.1 202.1 L1250.6 197.8 L1251.1 193.4 L1251.6 189.1 L1252.1 184.9 L1252.7 180.7 L1253.2 176.6 L1253.7 172.5 L1254.2 168.5 L1254.7 164.5 L1255.2 160.6 L1255.7 156.8 L1256.2 153 L1256.7 149.3 L1257.3 145.6 L1257.8 142 L1258.3 138.5 L1258.8 135 L1259.3 131.6 L1259.8 128.2 L1260.3 124.9 L1260.8 121.7 L1261.3 118.5 L1261.8 115.4 L1262.4 112.4 L1262.9 109.4 L1263.4 106.5 L1263.9 103.7 L1264.4 100.9 L1264.9 98.2 L1265.4 95.6 L1265.9 93 L1266.4 90.5 L1267 88.1 L1267.5 85.8 L1268 83.5 L1268.5 81.3 L1269 79.1 L1269.5 77 L1270 75 L1270.5 73.1 L1271 71.2 L1271.5 69.4 L1272.1 67.7 L1272.6 66.1 L1273.1 64.5 L1273.6 63 L1274.1 61.5 L1274.6 60.2 L1275.1 58.9 L1275.6 57.6 L1276.1 56.5 L1276.6 55.5 L1277.2 54.5 L1277.7 53.7 L1278.2 52.9 L1278.7 52.2 L1279.2 51.6 L1279.7 51 L1280.2 50.5 L1280.7 50 L1281.2 49.6 L1281.8 49.3 L1282.3 49 L1282.8 48.8 L1283.3 48.7 L1283.8 48.7 L1284.3 48.7 L1284.8 48.9 L1285.3 49.1 L1285.8 49.4 L1286.3 49.7 L1286.9 50.1 L1287.4 50.6 L1287.9 51.1 L1288.4 51.6 L1288.9 52.2 L1289.4 52.9 L1289.9 53.6 L1290.4 54.5 L1290.9 55.4 L1291.4 56.4 L1292 57.4 L1292.5 58.5 L1293 59.6 L1293.5 60.8 L1294 61.9 L1294.5 63 L1295 64 L1295.5 65.1 L1296 66.1 L1296.6 67.1 L1297.1 68.1 L1297.6 69.1 L1298.1 70.1 L1298.6 71.1 L1299.1 72.1 L1299.6 73.1 L1300.1 74.1 L1300.6 75.2 L1301.1 76.3 L1301.7 77.4 L1302.2 78.5 L1302.7 79.7 L1303.2 80.9 L1303.7 82.2 L1304.2 83.5 L1304.7 84.8 L1305.2 86.2 L1305.7 87.7 L1306.3 89.2 L1306.8 90.8 L1307.3 92.4 L1307.8 94.1 L1308.3 95.9 L1308.8 97.7 L1309.3 99.5 L1309.8 101.4 L1310.3 103.2 L1310.8 105.1 L1311.4 107 L1311.9 108.8 L1312.4 110.7 L1312.9 112.5 L1313.4 114.3 L1313.9 116.1 L1314.4 117.8 L1314.9 119.5 L1315.4 121.2 L1315.9 122.9 L1316.5 124.5 L1317 126.1 L1317.5 127.7 L1318 129.3 L1318.5 130.9 L1319 132.5 L1319.5 134 L1320 135.5 L1320.5 137 L1321.1 138.4 L1321.6 139.8 L1322.1 141.2 L1322.6 142.6 L1323.1 144 L1323.6 145.3 L1324.1 146.7 L1324.6 148 L1325.1 149.3 L1325.6 150.5 L1326.2 151.8 L1326.7 153 L1327.2 154.3 L1327.7 155.5 L1328.2 156.7 L1328.7 157.9 L1329.2 159.1 L1329.7 160.2 L1330.2 161.4 L1330.8 162.5 L1331.3 163.7 L1331.8 164.8 L1332.3 165.9 L1332.8 167 L1333.3 168.1 L1333.8 169.2 L1334.3 170.3 L1334.8 171.3 L1335.3 172.4 L1335.9 173.5 L1336.4 174.5 L1336.9 175.5 L1337.4 176.6 L1337.9 177.6 L1338.4 178.6 L1338.9 179.6 L1339.4 180.6 L1339.9 181.6 L1340.4 182.6 L1341 183.5 L1341.5 184.5 L1342 185.5 L1342.5 186.5 L1343 187.4 L1343.5 188.4 L1344 189.4 L1344.5 190.4 L1345 191.3 L1345.6 192.3 L1346.1 193.3 L1346.6 194.3 L1347.1 195.3 L1347.6 196.3 L1348.1 197.3 L1348.6 198.3 L1349.1 199.4 L1349.6 200.4 L1350.1 201.4 L1350.7 202.5 L1351.2 203.6 L1351.7 204.6 L1352.2 205.7 L1352.7 206.8 L1353.2 207.9 L1353.7 209 L1354.2 210.2 L1354.7 211.3 L1355.2 212.4 L1355.8 213.6 L1356.3 214.7 L1356.8 215.9 L1357.3 217.1 L1357.8 218.3 L1358.3 219.5 L1358.8 220.7 L1359.3 221.9 L1359.8 223.1 L1360.4 224.3 L1360.9 225.5 L1361.4 226.7 L1361.9 227.9 L1362.4 229.2 L1362.9 230.4 L1363.4 231.7 L1363.9 232.9 L1364.4 234.2 L1364.9 235.4 L1365.5 236.7 L1366 237.9 L1366.5 239.2 L1367 240.4 L1367.5 241.7 L1368 242.9 L1368.5 244.2 L1369 245.5 L1369.5 246.7 L1370.1 248 L1370.6 249.2 L1371.1 250.5 L1371.6 251.7 L1372.1 253 L1372.6 254.2 L1373.1 255.4 L1373.6 256.7 L1374.1 257.9 L1374.6 259.1 L1375.2 260.3 L1375.7 261.6 L1376.2 262.8 L1376.7 264 L1377.2 265.2 L1377.7 266.4 L1378.2 267.6 L1378.7 268.7 L1379.2 269.9 L1379.7 271.1 L1380.3 272.3 L1380.8 273.5 L1381.3 274.7 L1381.8 275.8 L1382.3 277 L1382.8 278.2 L1383.3 279.4 L1383.8 280.6 L1384.3 281.8 L1384.9 283 L1385.4 284.2 L1385.9 285.4 L1386.4 286.6 L1386.9 287.8 L1387.4 289 L1387.9 290.2 L1388.4 291.5 L1388.9 292.7 L1389.4 293.9 L1390 295.2 L1390.5 296.4 L1391 297.7 L1391.5 298.9 L1392 300.2 L1392.5 301.4 L1393 302.7 L1393.5 304 L1394 305.2 L1396.1 310.3 L1398.1 315.4 L1400.2 320.4 L1402.2 325.4 L1404.2 330.4 L1406.3 335.3 L1408.3 340.2 L1410.4 345 L1412.4 349.8 L1414.5 354.4 L1416.5 359 L1418.5 363.4 L1420.6 367.8 L1422.6 372 L1424.7 376 L1426.7 380 L1428.7 383.9 L1430.8 387.7 L1432.8 391.4 L1434.9 395 L1436.9 398.6 L1439 402.1 L1441 405.5 L1443 408.9 L1445.1 412.2 L1447.1 415.5 L1449.2 418.7 L1451.2 421.9 L1453.2 425 L1455.3 428.1 L1457.3 431.1 L1459.4 434.1 L1461.4 437 L1463.5 439.9 L1465.5 442.7 L1467.5 445.5 L1469.6 448.1 L1471.6 450.7 L1473.7 453.2 L1475.7 455.6 L1477.7 458 L1479.8 460.3 L1481.8 462.5 L1483.9 464.7 L1485.9 466.8 L1488 468.9 L1490 470.9 L1492 472.9 L1494.1 474.8 L1496.1 476.8 L1498.2 478.7 L1500.2 480.6 L1502.2 482.5 L1504.3 484.4 L1506.3 486.3 L1508.4 488.2 L1510.4 490.1 L1512.5 492 L1514.5 493.9 L1516.5 495.8 L1518.6 497.6 L1520.6 499.5 L1522.7 501.3 L1524.7 503.1 L1526.7 504.8 L1528.8 506.6 L1530.8 508.3 L1532.9 509.9 L1534.9 511.6 L1537 513.1 L1539 514.7 L1541 516.2 L1543.1 517.6 L1545.1 519 L1547.2 520.3 L1549.2 521.6 L1551.2 522.9 L1553.3 524.1 L1555.3 525.3 L1557.4 526.5 L1559.4 527.6 L1561.5 528.7 L1563.5 529.8 L1565.5 530.9 L1567.6 531.9 L1569.6 532.9 L1571.7 533.9 L1573.7 534.9 L1575.7 535.9 L1577.8 536.8 L1579.8 537.7 L1581.9 538.6 L1583.9 539.5 L1586 540.3 L1588 541.1 L1590 541.9 L1592.1 542.7 L1594.1 543.4 L1596.2 544.2 L1598.2 544.9 L1600.2 545.6 L1602.3 546.2 L1604.3 546.9 L1606.4 547.5 L1608.4 548.2 L1610.4 548.8 L1612.5 549.4 L1614.5 549.9 L1616.6 550.5 L1618.6 551.1 L1620.7 551.6 L1622.7 552.2 L1624.7 552.7 L1626.8 553.2 L1628.8 553.7 L1630.9 554.2 L1632.9 554.7 L1634.9 555.1 L1637 555.6 L1639 556 L1641.1 556.5 L1643.1 556.9 L1645.2 557.3 L1647.2 557.7 L1649.2 558.1 L1651.3 558.5 L1653.3 558.8 L1655.4 559.2 L1657.4 559.6 L1659.4 559.9 L1661.5 560.3 L1663.5 560.6 L1665.6 560.9 L1667.6 561.2 L1669.7 561.6 L1671.7 561.9 L1673.7 562.2 L1675.8 562.5 L1677.8 562.8 L1679.9 563.1 L1681.9 563.3 L1683.9 563.6 L1686 563.9 L1688 564.2 L1690.1 564.4 L1692.1 564.7 L1694.2 564.9 L1696.2 565.2 L1698.2 565.4 L1700.3 565.7 L1702.3 565.9 L1704.4 566.1 L1706.4 566.4 L1708.4 566.6 L1710.5 566.8 L1712.5 567 L1714.6 567.2 L1716.6 567.5 L1718.7 567.7 L1720.7 567.9 L1722.7 568.1 L1724.8 568.3 L1726.8 568.5 L1728.9 568.7 L1730.9 568.9 L1732.9 569.1 L1735 569.2 L1737 569.4 L1739.1 569.6 L1741.1 569.7 L1743.2 569.9 L1745.2 570.1 L1747.2 570.2 L1749.3 570.4 L1751.3 570.5 L1753.4 570.7 L1755.4 570.8 L1757.4 570.9 L1759.5 571.1 L1761.5 571.2 L1763.6 571.3 L1765.6 571.5 L1767.7 571.6 L1769.7 571.7 L1771.7 571.9 L1773.8 572 L1775.8 572.1 L1777.9 572.3 L1779.9 572.4 L1781.9 572.5 L1784 572.6 L1786 572.8 L1788.1 572.9 L1790.1 573 L1792.2 573.1 L1794.2 573.2 L1796.2 573.3 L1798.3 573.4 L1800.3 573.6 L1802.4 573.7 L1804.4 573.8 L1806.4 573.9 L1808.5 574 L1810.5 574.1 L1812.6 574.2 L1814.6 574.3 L1816.7 574.4 L1818.7 574.4 L1820.7 574.5 L1822.8 574.6 L1824.8 574.7 L1826.9 574.8 L1828.9 574.8 L1830.9 574.9 L1833 575 L1835 575.1 L1837.1 575.1 L1839.1 575.2 L1841.2 575.2 L1843.2 575.3 L1845.2 575.3 L1847.3 575.4 L1849.3 575.4 L1851.4 575.5 L1853.4 575.5 L1855.4 575.6 L1857.5 575.6 L1859.5 575.6 L1861.6 575.7 L1863.6 575.7 L1865.6 575.7 L1867.7 575.8 L1869.7 575.8 L1871.8 575.8 L1873.8 575.9 L1875.9 575.9 L1877.9 575.9 L1879.9 576 L1882 576 L1884 576 L1886.1 576 L1888.1 576.1 L1890.1 576.1 L1892.2 576.1 L1894.2 576.1 L1896.3 576.2 L1898.3 576.2 L1900.4 576.2 L1902.4 576.2 L1904.4 576.3 L1906.5 576.3 L1908.5 576.3 L1910.6 576.3 L1912.6 576.4 L1914.6 576.4 L1916.7 576.4 L1918.7 576.4 L1920.8 576.4 L1922.8 576.5 L1924.9 576.5 L1926.9 576.5 L1928.9 576.5 L1931 576.5 L1933 576.6 L1935.1 576.6 L1937.1 576.6 L1939.1 576.6 L1941.2 576.6 L1943.2 576.7 L1945.3 576.7 L1947.3 576.7 L1949.4 576.7 L1951.4 576.7 L1953.4 576.8 L1955.5 576.8 L1957.5 576.8 L1959.6 576.8 L1961.6 576.8 L1963.6 576.9 L1965.7 576.9 L1967.7 576.9 L1969.8 576.9 L1971.8 576.9 L1973.9 577 L1975.9 577 L1977.9 577 L1980 577 L1980.5 577" stroke="#bbdf27" stroke-width="8.4"/>
<path d="M1215.4 577.8 L1216.9 564.5 L1218.5 551.1 L1220 537.8 L1221.5 524.4 L1223.1 511.2 L1224.6 498 L1226.1 484.8 L1227.7 471.7 L1229.2 458.7 L1230.7 445.8 L1232.3 432.9 L1233.8 420.2 L1235.3 407.6 L1236.9 395.1 L1238.4 382.8 L1239.9 370.6 L1241.5 358.6 L1243 346.7 L1244.6 335 L1246.1 323.4 L1247.6 312.1 L1249.2 300.9 L1250.7 289.9 L1252.2 279.2 L1253.8 268.6 L1255.3 258.2 L1256.8 248.1 L1258.4 238.2 L1259.9 228.5 L1261.4 219.1 L1263 209.9 L1264.5 200.9 L1266 192.2 L1267.6 183.8 L1269.1 175.6 L1270.6 167.6 L1272.2 159.9 L1273.7 152.5 L1275.2 145.3 L1276.8 138.4 L1278.3 131.7 L1279.8 125.3 L1281.4 119.2 L1282.9 113.4 L1284.4 107.8 L1286 102.4 L1287.5 97.4 L1289 92.6 L1290.6 88 L1292.1 83.8 L1293.6 79.7 L1295.2 76 L1296.7 72.5 L1298.3 69.2 L1299.8 66.2 L1301.3 63.4 L1302.9 60.9 L1304.4 58.6 L1305.9 56.6 L1307.5 54.8 L1309 53.2 L1310.5 51.9 L1312.1 50.7 L1313.6 49.8 L1315.1 49.1 L1316.7 48.6 L1318.2 48.4 L1319.7 48.3 L1321.3 48.4 L1322.8 48.7 L1324.3 49.2 L1325.9 49.9 L1327.4 50.7 L1328.9 51.8 L1330.5 53 L1332 54.3 L1333.5 55.8 L1335.1 57.5 L1336.6 59.3 L1338.1 61.3 L1339.7 63.4 L1341.2 65.6 L1342.7 68 L1344.3 70.5 L1345.8 73.1 L1347.3 75.8 L1348.9 78.7 L1350.4 81.6 L1351.9 84.6 L1353.5 87.8 L1355 91 L1356.6 94.3 L1358.1 97.7 L1359.6 101.2 L1361.2 104.8 L1362.7 108.4 L1364.2 112.1 L1365.8 115.9 L1367.3 119.7 L1368.8 123.6 L1370.4 127.5 L1371.9 131.5 L1373.4 135.5 L1375 139.5 L1376.5 143.6 L1378 147.8 L1379.6 151.9 L1381.1 156.1 L1382.6 160.3 L1384.2 164.6 L1385.7 168.8 L1387.2 173.1 L1388.8 177.4 L1390.3 181.7 L1391.8 186 L1393.4 190.3 L1394.9 194.6 L1396.4 198.9 L1398 203.2 L1399.5 207.5 L1401 211.8 L1402.6 216.1 L1404.1 220.4 L1405.6 224.7 L1407.2 229 L1408.7 233.2 L1410.3 237.5 L1411.8 241.7 L1413.3 245.9 L1414.9 250.1 L1416.4 254.2 L1417.9 258.4 L1419.5 262.5 L1421 266.6 L1422.5 270.6 L1424.1 274.7 L1425.6 278.7 L1427.1 282.7 L1428.7 286.6 L1430.2 290.5 L1431.7 294.4 L1433.3 298.3 L1434.8 302.1 L1436.3 305.9 L1437.9 309.6 L1439.4 313.4 L1440.9 317.1 L1442.5 320.7 L1444 324.3 L1445.5 327.9 L1447.1 331.5 L1448.6 335 L1450.1 338.4 L1451.7 341.9 L1453.2 345.3 L1454.7 348.6 L1456.3 352 L1457.8 355.3 L1459.3 358.5 L1460.9 361.7 L1462.4 364.9 L1464 368 L1465.5 371.1 L1467 374.2 L1468.6 377.2 L1470.1 380.2 L1471.6 383.2 L1473.2 386.1 L1474.7 388.9 L1476.2 391.8 L1477.8 394.6 L1479.3 397.3 L1480.8 400.1 L1482.4 402.8 L1483.9 405.4 L1485.4 408 L1487 410.6 L1488.5 413.2 L1490 415.7 L1491.6 418.2 L1493.1 420.6 L1494.6 423 L1496.2 425.4 L1497.7 427.7 L1499.2 430.1 L1500.8 432.3 L1502.3 434.6 L1503.8 436.8 L1505.4 439 L1506.9 441.1 L1508.4 443.2 L1510 445.3 L1511.5 447.4 L1513 449.4 L1514.6 451.4 L1516.1 453.4 L1517.7 455.3 L1519.2 457.2 L1520.7 459.1 L1522.3 460.9 L1523.8 462.7 L1525.3 464.5 L1526.9 466.3 L1528.4 468 L1529.9 469.7 L1531.5 471.4 L1533 473.1 L1534.5 474.7 L1536.1 476.3 L1537.6 477.9 L1539.1 479.5 L1540.7 481 L1542.2 482.5 L1543.7 484 L1545.3 485.5 L1546.8 486.9 L1548.3 488.3 L1549.9 489.7 L1551.4 491.1 L1552.9 492.5 L1554.5 493.8 L1556 495.1 L1557.5 496.4 L1559.1 497.6 L1560.6 498.9 L1562.1 500.1 L1563.7 501.3 L1565.2 502.5 L1566.7 503.7 L1568.3 504.8 L1569.8 506 L1571.4 507.1 L1572.9 508.2 L1574.4 509.3 L1576 510.3 L1577.5 511.4 L1579 512.4 L1580.6 513.4 L1582.1 514.4 L1583.6 515.4 L1585.2 516.3 L1586.7 517.3 L1588.2 518.2 L1589.8 519.1 L1591.3 520 L1592.8 520.9 L1594.4 521.8 L1595.9 522.7 L1597.4 523.5 L1599 524.3 L1600.5 525.1 L1602 526 L1603.6 526.7 L1605.1 527.5 L1606.6 528.3 L1608.2 529 L1609.7 529.8 L1611.2 530.5 L1612.8 531.2 L1614.3 531.9 L1615.8 532.6 L1617.4 533.3 L1618.9 534 L1620.4 534.7 L1622 535.3 L1623.5 535.9 L1625 536.6 L1626.6 537.2 L1628.1 537.8 L1629.7 538.4 L1631.2 539 L1632.7 539.6 L1634.3 540.1 L1635.8 540.7 L1637.3 541.3 L1638.9 541.8 L1640.4 542.3 L1641.9 542.9 L1643.5 543.4 L1645 543.9 L1646.5 544.4 L1648.1 544.9 L1649.6 545.4 L1651.1 545.9 L1652.7 546.3 L1654.2 546.8 L1655.7 547.2 L1657.3 547.7 L1658.8 548.1 L1660.3 548.6 L1661.9 549 L1663.4 549.4 L1664.9 549.8 L1666.5 550.2 L1668 550.6 L1669.5 551 L1671.1 551.4 L1672.6 551.8 L1674.1 552.2 L1675.7 552.5 L1677.2 552.9 L1678.7 553.3 L1680.3 553.6 L1681.8 554 L1683.4 554.3 L1684.9 554.7 L1686.4 555 L1688 555.3 L1689.5 555.6 L1691 555.9 L1692.6 556.3 L1694.1 556.6 L1695.6 556.9 L1697.2 557.2 L1698.7 557.5 L1700.2 557.7 L1701.8 558 L1703.3 558.3 L1704.8 558.6 L1706.4 558.8 L1707.9 559.1 L1709.4 559.4 L1711 559.6 L1712.5 559.9 L1714 560.1 L1715.6 560.4 L1717.1 560.6 L1718.6 560.9 L1720.2 561.1 L1721.7 561.3 L1723.2 561.6 L1724.8 561.8 L1726.3 562 L1727.8 562.2 L1729.4 562.4 L1730.9 562.6 L1732.4 562.8 L1734 563.1 L1735.5 563.3 L1737.1 563.5 L1738.6 563.6 L1740.1 563.8 L1741.7 564 L1743.2 564.2 L1744.7 564.4 L1746.3 564.6 L1747.8 564.8 L1749.3 564.9 L1750.9 565.1 L1752.4 565.3 L1753.9 565.4 L1755.5 565.6 L1757 565.8 L1758.5 565.9 L1760.1 566.1 L1761.6 566.2 L1763.1 566.4 L1764.7 566.6 L1766.2 566.7 L1767.7 566.8 L1769.3 567 L1770.8 567.1 L1772.3 567.3 L1773.9 567.4 L1775.4 567.5 L1776.9 567.7 L1778.5 567.8 L1780 567.9 L1781.5 568.1 L1783.1 568.2 L1784.6 568.3 L1786.1 568.4 L1787.7 568.6 L1789.2 568.7 L1790.8 568.8 L1792.3 568.9 L1793.8 569 L1795.4 569.2 L1796.9 569.3 L1798.4 569.4 L1800 569.5 L1801.5 569.6 L1803 569.7 L1804.6 569.8 L1806.1 569.9 L1807.6 570 L1809.2 570.1 L1810.7 570.2 L1812.2 570.3 L1813.8 570.4 L1815.3 570.5 L1816.8 570.6 L1818.4 570.7 L1819.9 570.7 L1821.4 570.8 L1823 570.9 L1824.5 571 L1826 571.1 L1827.6 571.2 L1829.1 571.3 L1830.6 571.3 L1832.2 571.4 L1833.7 571.5 L1835.2 571.6 L1836.8 571.7 L1838.3 571.7 L1839.8 571.8 L1841.4 571.9 L1842.9 572 L1844.5 572 L1846 572.1 L1847.5 572.2 L1849.1 572.2 L1850.6 572.3 L1852.1 572.4 L1853.7 572.4 L1855.2 572.5 L1856.7 572.6 L1858.3 572.6 L1859.8 572.7 L1861.3 572.8 L1862.9 572.8 L1864.4 572.9 L1865.9 572.9 L1867.5 573 L1869 573 L1870.5 573.1 L1872.1 573.2 L1873.6 573.2 L1875.1 573.3 L1876.7 573.3 L1878.2 573.4 L1879.7 573.4 L1881.3 573.5 L1882.8 573.5 L1884.3 573.6 L1885.9 573.6 L1887.4 573.7 L1888.9 573.7 L1890.5 573.8 L1892 573.8 L1893.5 573.9 L1895.1 573.9 L1896.6 574 L1898.1 574 L1899.7 574 L1901.2 574.1 L1902.8 574.1 L1904.3 574.2 L1905.8 574.2 L1907.4 574.3 L1908.9 574.3 L1910.4 574.3 L1912 574.4 L1913.5 574.4 L1915 574.5 L1916.6 574.5 L1918.1 574.5 L1919.6 574.6 L1921.2 574.6 L1922.7 574.6 L1924.2 574.7 L1925.8 574.7 L1927.3 574.8 L1928.8 574.8 L1930.4 574.8 L1931.9 574.9 L1933.4 574.9 L1935 574.9 L1936.5 575 L1938 575 L1939.6 575 L1941.1 575 L1942.6 575.1 L1944.2 575.1 L1945.7 575.1 L1947.2 575.2 L1948.8 575.2 L1950.3 575.2 L1951.8 575.3 L1953.4 575.3 L1954.9 575.3 L1956.5 575.3 L1958 575.4 L1959.5 575.4 L1961.1 575.4 L1962.6 575.4 L1964.1 575.5 L1965.7 575.5 L1967.2 575.5 L1968.7 575.5 L1970.3 575.6 L1971.8 575.6 L1973.3 575.6 L1974.9 575.6 L1976.4 575.7 L1977.9 575.7 L1979.5 575.7 L1981 575.7" stroke="#808080" stroke-width="4.17" stroke-dasharray="15.4 6.7" stroke-dashoffset="4"/>
</g>
<g stroke="#000" fill="none">
<path d="M157 585H165" stroke-width="2.1"/>
<path d="M157 558.2H165" stroke-width="2.1"/>
<path d="M157 539.1H165" stroke-width="2.1"/>
<path d="M157 524.4H165" stroke-width="2.1"/>
<path d="M157 512.3H165" stroke-width="2.1"/>
<path d="M157 502.1H165" stroke-width="2.1"/>
<path d="M157 493.3H165" stroke-width="2.1"/>
<path d="M157 485.5H165" stroke-width="2.1"/>
<path d="M157 478.6H172.6" stroke-width="4.2"/>
<path d="M157 432.7H165" stroke-width="2.1"/>
<path d="M157 405.9H165" stroke-width="2.1"/>
<path d="M157 386.9H165" stroke-width="2.1"/>
<path d="M157 372.1H165" stroke-width="2.1"/>
<path d="M157 360.1H165" stroke-width="2.1"/>
<path d="M157 349.9H165" stroke-width="2.1"/>
<path d="M157 341.1H165" stroke-width="2.1"/>
<path d="M157 333.3H165" stroke-width="2.1"/>
<path d="M157 326.3H172.6" stroke-width="4.2"/>
<path d="M157 280.5H165" stroke-width="2.1"/>
<path d="M157 253.7H165" stroke-width="2.1"/>
<path d="M157 234.6H165" stroke-width="2.1"/>
<path d="M157 219.9H165" stroke-width="2.1"/>
<path d="M157 207.8H165" stroke-width="2.1"/>
<path d="M157 197.6H165" stroke-width="2.1"/>
<path d="M157 188.8H165" stroke-width="2.1"/>
<path d="M157 181H165" stroke-width="2.1"/>
<path d="M157 174.1H172.6" stroke-width="4.2"/>
<path d="M157 128.2H165" stroke-width="2.1"/>
<path d="M157 101.4H165" stroke-width="2.1"/>
<path d="M157 82.4H165" stroke-width="2.1"/>
<path d="M157 67.6H165" stroke-width="2.1"/>
<path d="M157 55.6H165" stroke-width="2.1"/>
<path d="M157 45.4H165" stroke-width="2.1"/>
<path d="M157 36.6H165" stroke-width="2.1"/>
<path d="M157 28.8H165" stroke-width="2.1"/>
<path d="M195.3 630.8V622.8" stroke-width="2.1"/>
<path d="M233.6 630.8V622.8" stroke-width="2.1"/>
<path d="M271.8 630.8V622.8" stroke-width="2.1"/>
<path d="M310.1 630.8V622.8" stroke-width="2.1"/>
<path d="M348.4 630.8V615.2" stroke-width="4.2"/>
<path d="M386.6 630.8V622.8" stroke-width="2.1"/>
<path d="M424.9 630.8V622.8" stroke-width="2.1"/>
<path d="M463.2 630.8V622.8" stroke-width="2.1"/>
<path d="M501.5 630.8V622.8" stroke-width="2.1"/>
<path d="M539.8 630.8V615.2" stroke-width="4.2"/>
<path d="M578 630.8V622.8" stroke-width="2.1"/>
<path d="M616.3 630.8V622.8" stroke-width="2.1"/>
<path d="M654.6 630.8V622.8" stroke-width="2.1"/>
<path d="M692.9 630.8V622.8" stroke-width="2.1"/>
<path d="M731.1 630.8V615.2" stroke-width="4.2"/>
<path d="M769.4 630.8V622.8" stroke-width="2.1"/>
<path d="M807.7 630.8V622.8" stroke-width="2.1"/>
<path d="M846 630.8V622.8" stroke-width="2.1"/>
<path d="M884.2 630.8V622.8" stroke-width="2.1"/>
<rect x="157" y="21.8" width="765.5" height="609" stroke-width="4.2"/>
<rect x="1215.4" y="21.8" width="765.6" height="609" stroke-width="4.2"/>
</g>
<g font-family="'Liberation Serif', serif" fill="#000" style="font-kerning:none">
<text x="58.39" y="644.4" font-size="41.67" textLength="42.22" lengthAdjust="spacingAndGlyphs">10</text>
<text x="100.6" y="630.8" font-size="29.17" textLength="22.66" lengthAdjust="spacingAndGlyphs">−</text>
<text x="124.21" y="629" font-size="30.6">6</text>
<text x="58.39" y="492.15" font-size="41.67" textLength="42.22" lengthAdjust="spacingAndGlyphs">10</text>
<text x="100.6" y="478.55" font-size="29.17" textLength="22.66" lengthAdjust="spacingAndGlyphs">−</text>
<text x="124.5" y="476.75" font-size="30.6">5</text>
<text x="58.39" y="339.9" font-size="41.67" textLength="42.22" lengthAdjust="spacingAndGlyphs">10</text>
<text x="100.6" y="326.3" font-size="29.17" textLength="22.66" lengthAdjust="spacingAndGlyphs">−</text>
<text x="123.78" y="324.5" font-size="30.6">4</text>
<text x="58.39" y="187.65" font-size="41.67" textLength="42.22" lengthAdjust="spacingAndGlyphs">10</text>
<text x="100.6" y="174.05" font-size="29.17" textLength="22.66" lengthAdjust="spacingAndGlyphs">−</text>
<text x="124.5" y="172.25" font-size="30.6">3</text>
<text x="58.39" y="35.4" font-size="41.67" textLength="42.22" lengthAdjust="spacingAndGlyphs">10</text>
<text x="100.6" y="21.8" font-size="29.17" textLength="22.66" lengthAdjust="spacingAndGlyphs">−</text>
<text x="124.99" y="20" font-size="30.6">2</text>
<text x="146.11" y="673.7" font-size="42.92" textLength="22.18" lengthAdjust="spacingAndGlyphs">0</text>
<text x="313.25" y="673.7" font-size="42.92" textLength="64.08" lengthAdjust="spacingAndGlyphs">100</text>
<text x="505.57" y="673.7" font-size="42.92" textLength="65.9" lengthAdjust="spacingAndGlyphs">200</text>
<text x="698.24" y="673.7" font-size="42.92" textLength="64.71" lengthAdjust="spacingAndGlyphs">300</text>
<text x="889.74" y="673.7" font-size="42.92" textLength="65.93" lengthAdjust="spacingAndGlyphs">400</text>
<text x="1187.53" y="673.7" font-size="42.92" textLength="54.74" lengthAdjust="spacingAndGlyphs">0.0</text>
<text x="1314.37" y="673.7" font-size="42.92" textLength="53.61" lengthAdjust="spacingAndGlyphs">0.5</text>
<text x="1439.06" y="673.7" font-size="42.92" textLength="54.6" lengthAdjust="spacingAndGlyphs">1.0</text>
<text x="1566.05" y="673.7" font-size="42.92" textLength="53.31" lengthAdjust="spacingAndGlyphs">1.5</text>
<text x="1697.38" y="673.7" font-size="42.92" textLength="51.91" lengthAdjust="spacingAndGlyphs">2.0</text>
<text x="1824.55" y="673.7" font-size="42.92" textLength="49.91" lengthAdjust="spacingAndGlyphs">2.5</text>
<text x="1952.61" y="673.7" font-size="42.92" textLength="54.66" lengthAdjust="spacingAndGlyphs">3.0</text>
<text x="1146.39" y="591.64" font-size="42.92" textLength="52.82" lengthAdjust="spacingAndGlyphs">0.0</text>
<text x="1146.37" y="485.73" font-size="42.92" textLength="53.6" lengthAdjust="spacingAndGlyphs">0.2</text>
<text x="1146.37" y="379.72" font-size="42.92" textLength="53.5" lengthAdjust="spacingAndGlyphs">0.4</text>
<text x="1146.4" y="273.9" font-size="42.92" textLength="52.45" lengthAdjust="spacingAndGlyphs">0.6</text>
<text x="1146.39" y="167.99" font-size="42.92" textLength="52.82" lengthAdjust="spacingAndGlyphs">0.8</text>
<text x="1143.63" y="62.18" font-size="42.92" textLength="53.6" lengthAdjust="spacingAndGlyphs">1.0</text>
<text x="394.79" y="727.4" font-size="40.6" textLength="291.84" lengthAdjust="spacingAndGlyphs">time (virial units)</text>
<text x="1504.55" y="731" font-size="40.6" textLength="103.27" lengthAdjust="spacingAndGlyphs">radius</text>
<text x="1617.74" y="731" font-size="40.6" font-style="italic" textLength="16.94" lengthAdjust="spacingAndGlyphs">r</text>
<path d="M1637.6 740.6L1653 700.2" stroke="#000" stroke-width="1.9" fill="none"/>
<text x="1655.2" y="731" font-size="40.6" font-style="italic" textLength="21.5" lengthAdjust="spacingAndGlyphs">b</text>
<text x="1676.43" y="737.6" font-size="29.17" textLength="13.61" lengthAdjust="spacingAndGlyphs">c</text>
<text x="171.01" y="61.1" font-size="40.6" textLength="204.75" lengthAdjust="spacingAndGlyphs">(a) Plummer</text>
<g>
<path d="M390.8 56.7 C394 54 398 49 401.5 43.5 C404.5 39 407 36 406.6 34.2 C406.2 32.6 404 32.8 402.3 34.5 C399 38 396 45 395 50 C394 55 394.5 58.5 396.5 60 C398.5 61.3 402 60 405 57.3" stroke="#000" stroke-width="1.3" fill="none" stroke-linecap="round"/><path d="M404.3 33.6 C402 35 397 44 395.4 50 C394.6 53.5 394.6 56.5 395.4 58.6" stroke="#000" stroke-width="2.4" fill="none" stroke-linecap="round"/>
<path d="M419.5 46.9H446.8 M419.5 54.7H446.8" stroke="#000" stroke-width="2.0" fill="none"/>
<text x="459.28" y="60.6" font-size="42.92" textLength="17.19" lengthAdjust="spacingAndGlyphs">1</text>
</g>
<text x="1915.85" y="61.3" font-size="40.6" textLength="49.21" lengthAdjust="spacingAndGlyphs">(b)</text>
<text transform="translate(35.4 344.99) rotate(-90)" font-size="41.67" font-style="italic" textLength="26.59" lengthAdjust="spacingAndGlyphs">E</text>
<text transform="translate(41.8 318.42) rotate(-90)" font-size="29.17" textLength="11.5" lengthAdjust="spacingAndGlyphs">1</text>
<path d="M0 334.5 C3.5 334.5 1.2 329.5 3.2 327 C4.4 325.5 5.4 325 5.4 323.5" stroke="#000" stroke-width="2.2" fill="none"/>
<g transform="translate(1077.7 487.8) rotate(-90) translate(-390.8 -60.6)">
<path d="M390.8 56.7 C394 54 398 49 401.5 43.5 C404.5 39 407 36 406.6 34.2 C406.2 32.6 404 32.8 402.3 34.5 C399 38 396 45 395 50 C394 55 394.5 58.5 396.5 60 C398.5 61.3 402 60 405 57.3" stroke="#000" stroke-width="1.3" fill="none" stroke-linecap="round"/><path d="M404.3 33.6 C402 35 397 44 395.4 50 C394.6 53.5 394.6 56.5 395.4 58.6" stroke="#000" stroke-width="2.4" fill="none" stroke-linecap="round"/>
<path d="M419.5 46.9H446.8 M419.5 54.7H446.8" stroke="#000" stroke-width="2.0" fill="none"/>
<text x="459.28" y="60.6" font-size="42.92" textLength="17.19" lengthAdjust="spacingAndGlyphs">1</text>
</g>
<text transform="translate(1077.4 390.83) rotate(-90)" font-size="40.6" textLength="229.3" lengthAdjust="spacingAndGlyphs">density shape</text>
<text transform="translate(1121.6 434.26) rotate(-90)" font-size="40.6" textLength="216.63" lengthAdjust="spacingAndGlyphs">(normalised)</text>
</g>
<g font-family="'Liberation Serif', serif" fill="#808080" style="font-kerning:none">
<path d="M463.1 521.6H540.3" stroke="#808080" stroke-width="4.17" stroke-dasharray="15.4 6.7" fill="none"/>
<text x="548.17" y="469.8" font-size="33" textLength="334.61" lengthAdjust="spacingAndGlyphs">wave kinetic equation fit,</text>
<text x="549" y="509.3" font-size="33" font-style="italic" textLength="20.85" lengthAdjust="spacingAndGlyphs">E</text>
<text x="568.79" y="514.6" font-size="24" textLength="32.35" lengthAdjust="spacingAndGlyphs">init</text>
<path d="M612.8 498.5H635.2 M612.8 504.3H635.2" stroke="#808080" stroke-width="1.6" fill="none"/>
<text x="643.91" y="509" font-size="33" textLength="43.93" lengthAdjust="spacingAndGlyphs">1.0</text>
<path d="M696.2 494L712 509.3 M696.2 509.3L712 494" stroke="#808080" stroke-width="1.6" fill="none"/>
<text x="723.13" y="509" font-size="33" textLength="32.61" lengthAdjust="spacingAndGlyphs">10</text>
<text x="757.45" y="499" font-size="24" textLength="17.57" lengthAdjust="spacingAndGlyphs">−</text>
<text x="774.49" y="497.9" font-size="26.3" textLength="12.87" lengthAdjust="spacingAndGlyphs">6</text>
<text x="549" y="549.7" font-size="33" font-style="italic" textLength="20.85" lengthAdjust="spacingAndGlyphs">E</text>
<text x="569.18" y="555.6" font-size="24" textLength="17.83" lengthAdjust="spacingAndGlyphs">th</text>
<path d="M598.5 538.4H621.4 M598.5 544.3H621.4" stroke="#808080" stroke-width="1.6" fill="none"/>
<text x="631.51" y="550" font-size="33" textLength="42.28" lengthAdjust="spacingAndGlyphs">8.0</text>
<path d="M683 533.8L698.8 549.5 M683 549.5L698.8 533.8" stroke="#808080" stroke-width="1.6" fill="none"/>
<text x="708.64" y="550" font-size="33" textLength="33.64" lengthAdjust="spacingAndGlyphs">10</text>
<text x="742.22" y="538.8" font-size="24" textLength="17.94" lengthAdjust="spacingAndGlyphs">−</text>
<text x="760.07" y="537.7" font-size="26.3" textLength="12.83" lengthAdjust="spacingAndGlyphs">3</text>
<path d="M556.2 486.9 C557.29 483.38 559.59 482.06 562.25 484.61 S566.85 486.24 568.3 482.5" stroke="#808080" stroke-width="1.6" fill="none" stroke-linecap="round"/>
<path d="M556.2 526.6 C557.29 523.08 559.59 521.76 562.25 524.31 S566.85 525.94 568.3 522.2" stroke="#808080" stroke-width="1.6" fill="none" stroke-linecap="round"/>
<text x="547.54" y="587.7" font-size="33" font-style="italic" textLength="16.54" lengthAdjust="spacingAndGlyphs">γ</text>
<text x="561.75" y="593.3" font-size="24" textLength="20.01" lengthAdjust="spacingAndGlyphs">M</text>
<path d="M586.3 595.6L598.2 563.2" stroke="#808080" stroke-width="1.9" fill="none"/>
<text x="600.07" y="587.7" font-size="33" textLength="27.65" lengthAdjust="spacingAndGlyphs">Ω</text>
<text x="626.9" y="593.3" font-size="24" textLength="13.09" lengthAdjust="spacingAndGlyphs">0</text>
<path d="M649.5 576.2H672.5 M649.5 582.1H672.5" stroke="#808080" stroke-width="1.6" fill="none"/>
<text x="681.53" y="587.7" font-size="33" textLength="24.6" lengthAdjust="spacingAndGlyphs">−</text>
<text x="706.93" y="587.7" font-size="33" textLength="75.18" lengthAdjust="spacingAndGlyphs">0.001</text>
<path d="M1521.2 130.6H1599" stroke="#808080" stroke-width="4.17" stroke-dasharray="15.4 6.7" fill="none"/>
<text x="1605.36" y="119.7" font-size="32.4" textLength="300.45" lengthAdjust="spacingAndGlyphs">predicted mode shape,</text>
<text x="1605.2" y="156.9" font-size="32.4" textLength="16.61" lengthAdjust="spacingAndGlyphs">d</text>
<text x="1624.36" y="156.9" font-size="32.4" font-style="italic" textLength="18.08" lengthAdjust="spacingAndGlyphs">ρ</text>
<path d="M1646 164.9L1658.4 132.2" stroke="#808080" stroke-width="1.9" fill="none"/>
<text x="1660.41" y="156.9" font-size="32.4" textLength="16.49" lengthAdjust="spacingAndGlyphs">d</text>
<text x="1677.76" y="156.9" font-size="32.4" font-style="italic" textLength="13.84" lengthAdjust="spacingAndGlyphs">r</text>
</g>
</svg>
</body></html>
